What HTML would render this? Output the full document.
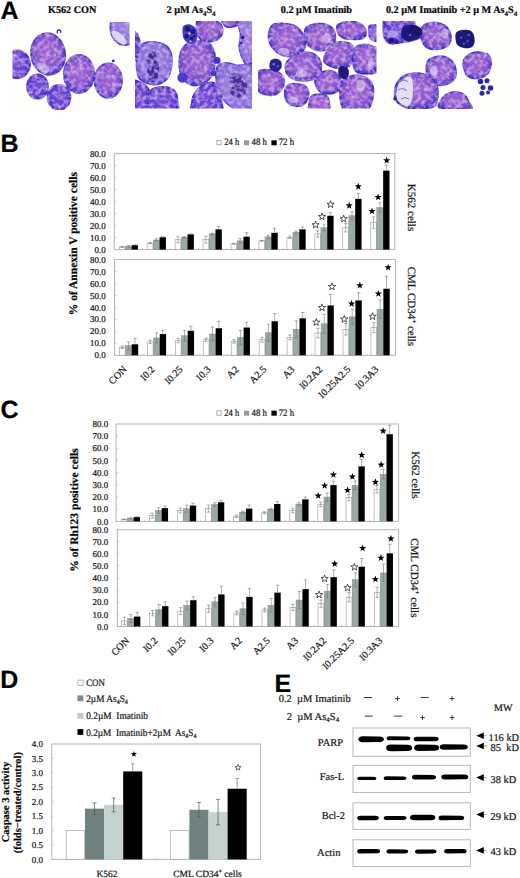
<!DOCTYPE html><html><head><meta charset="utf-8"><title>Figure</title><style>html,body{margin:0;padding:0;background:#fff;width:520px;height:878px;overflow:hidden}svg{display:block}text{stroke:#222;stroke-width:0.22px;text-rendering:geometricPrecision}</style></head><body>
<svg width="520" height="878" viewBox="0 0 520 878" font-family="'Liberation Serif', serif" fill="#111">
<rect width="520" height="878" fill="#fff"/>
<text x="0.5" y="18.7" font-family="'Liberation Sans', sans-serif" font-weight="bold" font-size="25" fill="#000">A</text>
<text x="0.6" y="151.5" font-family="'Liberation Sans', sans-serif" font-weight="bold" font-size="25" fill="#000">B</text>
<text x="0.4" y="418.3" font-family="'Liberation Sans', sans-serif" font-weight="bold" font-size="25" fill="#000">C</text>
<text x="0.2" y="688" font-family="'Liberation Sans', sans-serif" font-weight="bold" font-size="25" fill="#000">D</text>
<text x="274.6" y="691.6" font-family="'Liberation Sans', sans-serif" font-weight="bold" font-size="25" fill="#000">E</text>
<text x="48" y="13.2" font-size="10.2" font-weight="bold" fill="#000">K562 CON</text>
<text x="166.5" y="13.2" font-size="10.2" font-weight="bold" fill="#000">2 µM As<tspan font-size="7" dy="2.5">4</tspan><tspan dy="-2.5">S</tspan><tspan font-size="7" dy="2.5">4</tspan></text>
<text x="280.8" y="13.2" font-size="10.2" font-weight="bold" fill="#000">0.2 µM Imatinib</text>
<text x="385.9" y="13.2" font-size="10.2" font-weight="bold" fill="#000">0.2 µM Imatinib +2 µ M As<tspan font-size="7" dy="2.5">4</tspan><tspan dy="-2.5">S</tspan><tspan font-size="7" dy="2.5">4</tspan></text>
<defs>
<radialGradient id="gc" cx="50%" cy="45%" r="58%">
<stop offset="0" stop-color="#a068d4"/><stop offset="0.6" stop-color="#8a56ce"/><stop offset="0.86" stop-color="#5a40ca"/><stop offset="1" stop-color="#3026c0"/></radialGradient>
<radialGradient id="gb" cx="50%" cy="50%" r="58%">
<stop offset="0" stop-color="#7a50d8"/><stop offset="0.7" stop-color="#5a3cd4"/><stop offset="1" stop-color="#2c22c2"/></radialGradient>
<radialGradient id="gl" cx="50%" cy="45%" r="58%">
<stop offset="0" stop-color="#9c88e2"/><stop offset="0.75" stop-color="#8470dc"/><stop offset="1" stop-color="#4a3ace"/></radialGradient>
<filter id="tex" x="-5%" y="-5%" width="110%" height="110%">
<feTurbulence type="fractalNoise" baseFrequency="0.24" numOctaves="2" seed="7" result="n"/>
<feColorMatrix in="n" type="matrix" values="0 0 0 0 0.84  0 0 0 0 0.52  0 0 0 0 0.88  1.7 0 0 0 -0.72" result="pk"/>
<feGaussianBlur in="pk" stdDeviation="0.6" result="pkb"/>
<feComposite in="pkb" in2="SourceGraphic" operator="in" result="pk2"/>
<feMerge result="m"><feMergeNode in="SourceGraphic"/><feMergeNode in="pk2"/></feMerge>
<feGaussianBlur in="m" stdDeviation="0.4"/>
</filter>
<filter id="bl" x="-10%" y="-10%" width="120%" height="120%"><feGaussianBlur stdDeviation="0.5"/></filter>
<clipPath id="cp1"><rect x="12.5" y="22" width="117" height="88"/></clipPath>
<clipPath id="cp2"><rect x="135" y="21" width="117" height="87.6"/></clipPath>
<clipPath id="cp3"><rect x="258" y="21" width="118.5" height="87.5"/></clipPath>
<clipPath id="cp4"><rect x="382.5" y="21" width="132.5" height="88"/></clipPath>
</defs>
<g clip-path="url(#cp1)"><rect x="12.5" y="22" width="117" height="88" fill="#fefefb"/>
<g filter="url(#tex)"><ellipse cx="17" cy="64.3" rx="13.3" ry="14.3" fill="url(#gb)" stroke="#3024c4" stroke-width="1.2" stroke-opacity="0.85"/><ellipse cx="48.1" cy="54" rx="17.3" ry="21.2" fill="url(#gc)" transform="rotate(-8 48.1 54)" stroke="#3024c4" stroke-width="1.2" stroke-opacity="0.85"/><ellipse cx="37.5" cy="86.5" rx="10.8" ry="12.5" fill="url(#gb)" stroke="#3024c4" stroke-width="1.2" stroke-opacity="0.85"/><ellipse cx="59" cy="97.3" rx="11.8" ry="12.8" fill="url(#gb)" stroke="#3024c4" stroke-width="1.2" stroke-opacity="0.85"/><ellipse cx="79" cy="74" rx="15.5" ry="19.4" fill="url(#gc)" stroke="#3024c4" stroke-width="1.2" stroke-opacity="0.85"/><ellipse cx="108.3" cy="80.6" rx="14" ry="17.6" fill="url(#gc)" stroke="#3024c4" stroke-width="1.2" stroke-opacity="0.85"/><ellipse cx="125" cy="27" rx="15" ry="18.5" fill="url(#gl)" stroke="#3024c4" stroke-width="1.2" stroke-opacity="0.85"/></g>
<g filter="url(#bl)"><path d="M57.5 33.5 q-1 -3 1.5 -3.5 q2.5 0 1.5 3" stroke="#3a2cc6" stroke-width="1.3" fill="none"/><circle cx="113.30" cy="61.00" r="1.40" fill="#3a30a8"/><ellipse cx="43" cy="68" rx="7" ry="4" transform="rotate(30 43 68)" fill="#eee8f8" opacity="0.55"/><ellipse cx="119" cy="37.5" rx="9.5" ry="4" fill="#dcd6f4" transform="rotate(42 119 37.5)"/></g>
</g>
<g clip-path="url(#cp2)"><rect x="135" y="21" width="117" height="87.6" fill="#fefefb"/>
<g filter="url(#tex)"><path d="M132.8 32.7C133.8 28.8 137.5 33.7 138.6 36.2C139.8 38.7 140.0 44.0 139.8 47.7C139.6 51.3 138.6 56.2 137.5 58.1C136.3 60.0 133.6 63.5 132.8 59.2C132.1 55.0 131.9 36.5 132.8 32.7Z" fill="#4a3cd0" stroke="#3024c4" stroke-width="1.2" stroke-opacity="0.85"/><path d="M132.8 82.3C134.6 77.5 140.5 82.3 143.2 83.5C145.9 84.6 148.2 86.7 149.0 89.2C149.8 91.7 148.4 94.6 147.8 98.5C147.3 102.3 148.0 110.0 145.5 112.3C143.0 114.6 135.0 117.3 132.8 112.3C130.7 107.3 131.1 87.1 132.8 82.3Z" fill="url(#gb)" stroke="#3024c4" stroke-width="1.2" stroke-opacity="0.85"/><path d="M150.2 90.4C151.9 88.3 155.9 87.3 159.4 86.9C162.8 86.5 168.0 86.9 170.9 88.1C173.8 89.2 175.5 91.4 176.7 93.9C177.8 96.4 177.8 100.0 177.8 103.1C177.8 106.2 181.5 110.8 176.7 112.3C171.9 113.9 153.6 114.4 149.0 112.3C144.4 110.2 148.8 103.3 149.0 99.6C149.2 96.0 148.4 92.5 150.2 90.4Z" fill="url(#gb)" stroke="#3024c4" stroke-width="1.2" stroke-opacity="0.85"/><path d="M139.8 45.4C141.5 43.3 144.6 42.4 147.8 41.9C151.1 41.5 156.1 41.8 159.4 42.6C162.7 43.4 165.3 44.2 167.5 46.5C169.6 48.9 171.5 52.9 172.1 56.9C172.7 61.0 171.9 66.9 170.9 70.8C170.0 74.6 168.6 77.7 166.3 80.0C164.0 82.3 160.3 84.0 157.1 84.6C153.8 85.2 149.8 84.6 146.7 83.5C143.6 82.3 140.3 80.6 138.6 77.7C136.9 74.8 136.5 70.0 136.3 66.2C136.1 62.3 136.9 58.1 137.5 54.6C138.0 51.2 138.0 47.5 139.8 45.4Z" fill="url(#gl)" stroke="#3024c4" stroke-width="1.2" stroke-opacity="0.85"/><path d="M150.2 52.3C151.3 51.0 152.7 50.8 153.6 51.2C154.6 51.5 155.3 53.1 155.9 54.6C156.5 56.2 156.5 58.5 157.1 60.4C157.7 62.3 159.2 64.0 159.4 66.2C159.6 68.3 158.6 70.8 158.2 73.1C157.8 75.4 158.0 78.5 157.1 80.0C156.1 81.5 154.0 82.2 152.5 81.9C150.9 81.5 148.7 79.5 147.8 77.7C147.0 75.9 147.2 72.9 147.4 70.8C147.6 68.7 149.1 66.9 149.0 65.0C148.9 63.1 146.5 61.3 146.7 59.2C146.9 57.1 149.0 53.7 150.2 52.3Z" fill="#3e2aa4"/><path d="M197.5 18.8C199.6 16.3 206.3 18.1 210.2 18.8C214.0 19.6 218.4 21.3 220.5 23.5C222.7 25.6 223.0 29.0 222.9 31.5C222.7 34.0 221.5 36.7 219.4 38.5C217.3 40.2 213.0 41.5 210.2 41.9C207.3 42.3 204.2 42.1 202.1 40.8C200.0 39.4 198.2 37.5 197.5 33.8C196.7 30.2 195.4 21.3 197.5 18.8Z" fill="url(#gc)" stroke="#3024c4" stroke-width="1.2" stroke-opacity="0.85"/><path d="M221.7 18.8C223.4 17.5 234.2 17.7 236.7 18.8C239.2 20.0 238.4 24.4 236.7 25.8C235.0 27.1 228.8 28.1 226.3 26.9C223.8 25.8 220.0 20.2 221.7 18.8Z" fill="url(#gc)" stroke="#3024c4" stroke-width="1.2" stroke-opacity="0.85"/><path d="M181.3 50.0C183.0 46.7 186.1 43.5 189.4 41.9C192.7 40.4 197.5 40.4 200.9 40.8C204.4 41.2 207.9 42.3 210.2 44.2C212.5 46.2 214.0 48.7 214.8 52.3C215.5 56.0 215.2 62.3 214.8 66.2C214.4 70.0 214.0 72.7 212.5 75.4C210.9 78.1 208.4 80.6 205.5 82.3C202.7 84.0 198.4 85.8 195.2 85.8C191.9 85.8 188.4 84.4 185.9 82.3C183.4 80.2 181.3 76.5 180.2 73.1C179.0 69.6 178.8 65.4 179.0 61.5C179.2 57.7 179.6 53.3 181.3 50.0Z" fill="url(#gc)" stroke="#3024c4" stroke-width="1.2" stroke-opacity="0.85"/><path d="M237.9 18.8C240.5 16.3 253.2 11.3 256.3 18.8C259.4 26.3 257.9 56.2 256.3 63.8C254.8 71.5 249.4 65.8 247.1 65.0C244.8 64.2 243.8 62.1 242.5 59.2C241.1 56.3 239.4 51.9 239.0 47.7C238.6 43.5 240.4 38.7 240.2 33.8C240.0 29.0 235.2 21.3 237.9 18.8Z" fill="url(#gl)" stroke="#3024c4" stroke-width="1.2" stroke-opacity="0.85"/><path d="M217.1 66.2C218.8 63.3 222.9 62.9 226.3 62.7C229.8 62.5 234.0 64.8 237.9 65.0C241.7 65.2 246.3 63.7 249.4 63.8C252.5 64.0 255.2 58.1 256.3 66.2C257.5 74.2 259.4 104.8 256.3 112.3C253.2 119.8 242.9 112.7 237.9 111.2C232.9 109.6 229.4 106.0 226.3 103.1C223.2 100.2 221.1 97.7 219.4 93.9C217.7 90.0 216.3 84.6 215.9 80.0C215.5 75.4 215.4 69.0 217.1 66.2Z" fill="url(#gl)" stroke="#3024c4" stroke-width="1.2" stroke-opacity="0.85"/><path d="M232.1 74.2C233.6 73.2 237.0 73.0 239.0 73.5C241.0 74.1 243.0 75.9 244.3 77.7C245.7 79.5 246.8 82.1 247.1 84.6C247.4 87.1 246.9 90.6 245.9 92.7C245.0 94.8 243.0 96.4 241.3 97.3C239.6 98.2 237.3 98.6 235.5 98.0C233.8 97.4 232.0 95.7 230.9 93.9C229.9 92.0 229.3 89.2 229.1 86.9C228.9 84.6 229.3 82.1 229.8 80.0C230.3 77.9 230.5 75.3 232.1 74.2Z" fill="#4230a8"/><path d="M194.0 93.9C195.9 91.0 200.0 86.5 203.2 84.6C206.5 82.7 210.9 81.5 213.6 82.3C216.3 83.1 218.0 86.2 219.4 89.2C220.7 92.3 221.5 96.9 221.7 100.8C221.9 104.6 225.4 110.4 220.5 112.3C215.7 114.2 197.7 114.0 192.9 112.3C188.0 110.6 191.5 105.0 191.7 101.9C191.9 98.9 192.1 96.7 194.0 93.9Z" fill="url(#gb)" stroke="#3024c4" stroke-width="1.2" stroke-opacity="0.85"/></g>
<g filter="url(#bl)"><path d="M183.6 25.8C185.0 24.6 188.4 24.0 190.5 24.6C192.7 25.2 195.2 27.1 196.3 29.2C197.5 31.3 197.9 35.0 197.5 37.3C197.1 39.6 195.5 42.1 194.0 43.1C192.5 44.0 190.0 43.8 188.2 43.1C186.5 42.3 184.6 40.4 183.6 38.5C182.7 36.5 182.5 33.7 182.5 31.5C182.5 29.4 182.3 26.9 183.6 25.8Z" fill="#4a3cc4"/><circle cx="187.54" cy="28.77" r="3.00" fill="#1e1a80"/><circle cx="192.85" cy="31.54" r="2.54" fill="#1e1a80"/><circle cx="186.62" cy="36.16" r="2.31" fill="#1e1a80"/><circle cx="191.70" cy="38.92" r="2.08" fill="#1e1a80"/><circle cx="194.47" cy="36.16" r="1.38" fill="#1e1a80"/><circle cx="189.39" cy="33.39" r="1.20" fill="#c8c0f0"/><circle cx="190.54" cy="41.23" r="1.00" fill="#c8c0f0"/><circle cx="182.47" cy="77.70" r="5.08" fill="#4c3cd0"/><circle cx="217.08" cy="60.39" r="3.46" fill="#4434c8"/><circle cx="213.62" cy="73.54" r="2.77" fill="#4434c8"/><circle cx="242.47" cy="37.31" r="1.85" fill="#2a2298"/><circle cx="241.32" cy="43.08" r="1.38" fill="#2a2298"/></g>
</g>
<g clip-path="url(#cp3)"><rect x="258" y="21" width="118.5" height="87.5" fill="#fefefb"/>
<g filter="url(#tex)"><path d="M275.3 23.5C279.2 22.7 288.4 23.5 292.6 24.6C296.8 25.8 298.6 27.7 300.7 30.4C302.8 33.1 304.7 37.5 305.3 40.8C305.9 44.0 305.5 47.7 304.2 50.0C302.8 52.3 299.9 53.5 297.2 54.6C294.5 55.8 290.9 56.9 288.0 56.9C285.1 56.9 282.6 56.2 279.9 54.6C277.2 53.1 273.8 50.4 271.8 47.7C269.9 45.0 268.8 41.5 268.4 38.5C268.0 35.4 268.4 31.7 269.5 29.2C270.7 26.7 271.5 24.2 275.3 23.5Z" fill="url(#gc)" stroke="#3024c4" stroke-width="1.2" stroke-opacity="0.85"/><path d="M306.5 26.9C308.4 25.4 312.2 23.8 315.7 23.5C319.2 23.1 324.2 23.5 327.2 24.6C330.3 25.8 332.8 27.7 334.2 30.4C335.5 33.1 335.9 37.9 335.3 40.8C334.7 43.7 333.0 46.0 330.7 47.7C328.4 49.4 324.5 51.0 321.5 51.2C318.4 51.3 314.9 50.4 312.2 48.8C309.5 47.3 306.7 44.6 305.3 41.9C304.0 39.2 304.0 35.2 304.2 32.7C304.3 30.2 304.5 28.5 306.5 26.9Z" fill="url(#gc)" stroke="#3024c4" stroke-width="1.2" stroke-opacity="0.85"/><path d="M337.6 24.6C339.7 22.7 346.3 21.2 350.3 21.2C354.4 21.2 359.2 22.7 361.9 24.6C364.5 26.5 366.3 30.4 366.5 32.7C366.7 35.0 364.9 37.3 363.0 38.5C361.1 39.6 358.2 39.6 354.9 39.6C351.7 39.6 346.3 39.6 343.4 38.5C340.5 37.3 338.6 35.0 337.6 32.7C336.7 30.4 335.5 26.5 337.6 24.6Z" fill="url(#gc)" stroke="#3024c4" stroke-width="1.2" stroke-opacity="0.85"/><path d="M368.8 26.9C369.4 24.6 371.9 24.6 373.4 24.6C374.9 24.6 377.2 24.2 378.0 26.9C378.8 29.6 379.4 38.8 378.0 40.8C376.7 42.7 371.5 40.8 369.9 38.5C368.4 36.2 368.2 29.2 368.8 26.9Z" fill="url(#gc)" stroke="#3024c4" stroke-width="1.2" stroke-opacity="0.85"/><path d="M286.8 61.5C288.8 59.2 293.4 55.0 297.2 53.5C301.1 51.9 306.3 51.5 309.9 52.3C313.6 53.1 317.2 55.2 319.2 58.1C321.1 61.0 321.9 66.3 321.5 69.6C321.1 72.9 319.4 75.8 316.9 77.7C314.4 79.6 310.1 80.8 306.5 81.2C302.8 81.5 298.2 81.2 294.9 80.0C291.7 78.9 288.5 76.4 286.8 74.2C285.2 72.1 285.2 69.4 285.2 67.3C285.2 65.2 284.8 63.8 286.8 61.5Z" fill="url(#gc)" stroke="#3024c4" stroke-width="1.2" stroke-opacity="0.85"/><path d="M324.9 54.6C326.7 51.5 330.9 45.2 334.2 43.1C337.4 41.0 341.5 41.5 344.5 41.9C347.6 42.3 351.1 42.9 352.6 45.4C354.2 47.9 354.4 53.5 353.8 56.9C353.2 60.4 351.7 64.2 349.2 66.2C346.7 68.1 342.0 68.5 338.8 68.5C335.5 68.5 332.0 67.3 329.5 66.2C327.0 65.0 324.5 63.5 323.8 61.5C323.0 59.6 323.2 57.7 324.9 54.6Z" fill="url(#gc)" stroke="#3024c4" stroke-width="1.2" stroke-opacity="0.85"/><path d="M354.9 47.7C356.9 44.8 361.1 44.4 364.2 44.2C367.2 44.0 371.1 45.6 373.4 46.5C375.7 47.5 377.2 46.0 378.0 50.0C378.8 54.0 379.9 66.7 378.0 70.8C376.1 74.8 370.1 74.0 366.5 74.2C362.8 74.4 358.4 74.0 356.1 71.9C353.8 69.8 352.8 65.6 352.6 61.5C352.4 57.5 353.0 50.6 354.9 47.7Z" fill="url(#gc)" stroke="#3024c4" stroke-width="1.2" stroke-opacity="0.85"/><path d="M258.0 71.9C259.9 68.5 266.1 69.6 269.5 69.6C273.0 69.6 276.3 70.2 278.8 71.9C281.3 73.7 284.0 77.1 284.5 80.0C285.1 82.9 283.8 86.7 282.2 89.2C280.7 91.7 278.0 94.0 275.3 95.0C272.6 96.0 269.0 95.8 266.1 95.0C263.2 94.2 259.3 94.2 258.0 90.4C256.7 86.5 256.1 75.4 258.0 71.9Z" fill="url(#gc)" stroke="#3024c4" stroke-width="1.2" stroke-opacity="0.85"/><path d="M315.7 76.5C317.2 74.0 321.7 71.5 324.9 70.8C328.2 70.0 332.6 70.4 335.3 71.9C338.0 73.5 340.3 77.1 341.1 80.0C341.9 82.9 341.5 86.9 339.9 89.2C338.4 91.5 334.9 93.3 331.9 93.9C328.8 94.4 324.2 94.0 321.5 92.7C318.8 91.4 316.7 88.5 315.7 85.8C314.7 83.1 314.2 79.0 315.7 76.5Z" fill="url(#gc)" stroke="#3024c4" stroke-width="1.2" stroke-opacity="0.85"/><path d="M286.8 85.8C289.0 84.0 294.0 83.3 297.2 83.5C300.5 83.7 304.5 84.8 306.5 86.9C308.4 89.0 309.2 93.3 308.8 96.2C308.4 99.0 306.5 102.5 304.2 104.2C301.8 106.0 297.8 106.9 294.9 106.5C292.0 106.2 288.6 104.0 286.8 101.9C285.1 99.8 284.5 96.5 284.5 93.9C284.5 91.2 284.7 87.5 286.8 85.8Z" fill="url(#gc)" stroke="#3024c4" stroke-width="1.2" stroke-opacity="0.85"/><path d="M311.1 96.2C312.9 94.8 317.6 93.9 320.3 93.9C323.0 93.9 325.7 94.6 327.2 96.2C328.8 97.7 329.4 100.4 329.5 103.1C329.7 105.8 331.7 110.8 328.4 112.3C325.1 113.9 313.1 114.0 309.9 112.3C306.7 110.6 309.0 104.6 309.2 101.9C309.4 99.2 309.2 97.5 311.1 96.2Z" fill="url(#gc)" stroke="#3024c4" stroke-width="1.2" stroke-opacity="0.85"/><path d="M341.1 82.3C343.2 78.5 348.8 76.4 352.6 75.4C356.5 74.4 360.9 75.2 364.2 76.5C367.4 77.9 370.7 80.2 372.2 83.5C373.8 86.7 374.0 91.9 373.4 96.2C372.8 100.4 371.5 106.2 368.8 108.9C366.1 111.5 361.3 111.9 357.2 112.3C353.2 112.7 347.4 113.5 344.5 111.2C341.7 108.9 340.5 103.3 339.9 98.5C339.4 93.7 339.0 86.2 341.1 82.3Z" fill="url(#gc)" stroke="#3024c4" stroke-width="1.2" stroke-opacity="0.85"/></g>
<g filter="url(#bl)"><path d="M270.7 60.4C271.8 59.0 274.7 58.6 276.5 58.8C278.2 59.0 280.2 60.1 281.1 61.5C281.9 63.0 282.0 65.7 281.5 67.3C281.1 68.9 279.7 70.6 278.3 71.2C276.9 71.9 274.5 71.9 273.0 71.2C271.5 70.6 269.9 69.1 269.5 67.3C269.2 65.5 269.5 61.8 270.7 60.4Z" fill="#28228c"/><circle cx="273.69" cy="64.31" r="1.20" fill="#7a70d8"/><circle cx="277.85" cy="66.16" r="1.00" fill="#7a70d8"/><path d="M339.2 67.3C340.3 66.2 343.0 65.8 344.5 66.2C346.1 66.5 347.8 68.1 348.5 69.6C349.1 71.2 349.0 73.9 348.5 75.4C347.9 76.9 346.5 78.5 345.2 78.9C343.9 79.2 341.8 78.7 340.6 77.7C339.5 76.7 338.5 74.8 338.3 73.1C338.1 71.4 338.2 68.5 339.2 67.3Z" fill="#1c1a78"/><ellipse cx="283.4" cy="51.2" rx="6" ry="3.5" fill="#ece6f8" opacity="0.5"/><ellipse cx="301.8" cy="73.5" rx="6" ry="4" fill="#ece6f8" opacity="0.5"/><ellipse cx="360.7" cy="85.8" rx="4.5" ry="6" fill="#ece6f8" opacity="0.5"/><ellipse cx="292.6" cy="100" rx="5" ry="3.5" fill="#ece6f8" opacity="0.5"/><ellipse cx="327.2" cy="38.5" rx="4" ry="5" fill="#ece6f8" opacity="0.5"/><ellipse cx="371" cy="63.8" rx="3" ry="6" fill="#ece6f8" opacity="0.5"/></g>
</g>
<g clip-path="url(#cp4)"><rect x="382.5" y="21" width="132.5" height="88" fill="#fefefb"/>
<g filter="url(#tex)"><path d="M383.0 19.0C387.7 16.7 405.5 17.8 411.0 19.0C416.5 20.2 414.2 24.2 416.0 26.0C417.8 27.8 421.2 28.2 422.0 30.0C422.8 31.8 422.7 35.2 421.0 37.0C419.3 38.8 415.5 40.0 412.0 41.0C408.5 42.0 403.3 42.5 400.0 43.0C396.7 43.5 394.3 44.3 392.0 44.0C389.7 43.7 387.5 42.8 386.0 41.0C384.5 39.2 383.5 36.7 383.0 33.0C382.5 29.3 378.3 21.3 383.0 19.0Z" fill="url(#gb)" stroke="#3024c4" stroke-width="1.2" stroke-opacity="0.85"/><path d="M422.5 26.2C424.1 24.2 427.1 23.0 430.0 22.5C432.9 22.0 437.1 22.2 440.0 23.0C442.9 23.8 445.6 25.3 447.5 27.5C449.4 29.7 451.0 33.3 451.2 36.2C451.5 39.2 450.4 42.9 448.8 45.0C447.1 47.1 444.2 48.0 441.2 48.8C438.3 49.5 434.2 50.1 431.2 49.5C428.3 48.9 425.5 47.4 423.8 45.0C422.0 42.6 420.7 38.1 420.5 35.0C420.3 31.9 420.9 28.3 422.5 26.2Z" fill="url(#gc)" stroke="#3024c4" stroke-width="1.2" stroke-opacity="0.85"/><path d="M427.5 61.2C428.8 58.7 431.0 57.8 433.8 57.0C436.5 56.2 440.6 55.5 443.8 56.2C446.9 57.0 450.4 59.0 452.5 61.2C454.6 63.5 455.8 67.1 456.2 70.0C456.7 72.9 456.2 76.5 455.0 78.8C453.8 81.0 451.5 82.6 448.8 83.8C446.0 84.9 441.9 85.9 438.8 85.5C435.6 85.1 432.1 83.4 430.0 81.2C427.9 79.1 426.7 75.8 426.2 72.5C425.8 69.2 426.2 63.8 427.5 61.2Z" fill="url(#gc)" stroke="#3024c4" stroke-width="1.2" stroke-opacity="0.85"/><path d="M465.0 57.5C466.6 55.8 470.0 53.4 472.5 52.5C475.0 51.6 477.5 51.8 480.0 52.0C482.5 52.2 485.6 52.4 487.5 53.8C489.4 55.1 490.8 57.3 491.2 60.0C491.7 62.7 491.0 67.3 490.0 70.0C489.0 72.7 487.3 74.8 485.0 76.2C482.7 77.7 479.2 78.8 476.2 78.8C473.3 78.8 469.6 77.9 467.5 76.2C465.4 74.6 464.5 71.0 463.8 68.8C463.0 66.5 462.8 64.4 463.0 62.5C463.2 60.6 463.4 59.2 465.0 57.5Z" fill="url(#gc)" stroke="#3024c4" stroke-width="1.2" stroke-opacity="0.85"/><path d="M396.2 83.8C397.6 81.2 399.8 78.0 402.5 76.2C405.2 74.5 409.0 73.4 412.5 73.0C416.0 72.6 420.4 72.8 423.8 73.8C427.1 74.7 430.2 76.7 432.5 78.8C434.8 80.8 436.6 83.1 437.5 86.2C438.4 89.4 438.4 94.2 438.0 97.5C437.6 100.8 437.2 104.4 435.0 106.2C432.8 108.1 429.2 108.3 425.0 108.8C420.8 109.2 414.2 109.4 410.0 108.8C405.8 108.1 402.5 106.7 400.0 105.0C397.5 103.3 395.9 101.0 395.0 98.8C394.1 96.5 394.3 93.8 394.5 91.2C394.7 88.8 394.9 86.2 396.2 83.8Z" fill="url(#gc)" stroke="#3024c4" stroke-width="1.2" stroke-opacity="0.85"/><path d="M440.0 108.8C435.3 106.7 440.6 100.3 442.5 97.5C444.4 94.7 448.5 92.9 451.2 92.0C454.0 91.1 456.5 91.5 458.8 92.0C461.0 92.5 463.3 93.5 465.0 95.0C466.7 96.5 467.8 98.8 468.8 101.2C469.7 103.8 475.3 108.8 470.5 110.0C465.7 111.2 444.7 110.8 440.0 108.8Z" fill="url(#gc)" stroke="#3024c4" stroke-width="1.2" stroke-opacity="0.85"/></g>
<g filter="url(#bl)"><ellipse cx="393" cy="34" rx="5.5" ry="3.5" fill="#b8a8ea" opacity="0.8"/><path d="M403.0 27.0C404.5 25.1 407.7 24.7 410.0 24.5C412.3 24.3 415.0 25.1 417.0 26.0C419.0 26.9 421.3 28.3 422.0 30.0C422.7 31.7 422.3 34.3 421.0 36.0C419.7 37.7 416.5 39.2 414.0 40.0C411.5 40.8 408.2 41.7 406.0 41.0C403.8 40.3 401.5 38.3 401.0 36.0C400.5 33.7 401.5 28.9 403.0 27.0Z" fill="#1e1a80"/><circle cx="417.20" cy="31.00" r="4.20" fill="#14126a"/><circle cx="412.50" cy="28.50" r="3.60" fill="#16146e"/><circle cx="391.20" cy="40.50" r="2.80" fill="#1e1a80"/><circle cx="396.50" cy="41.50" r="2.20" fill="#241e88"/><circle cx="410.00" cy="35.00" r="1.00" fill="#7a70d8"/><path d="M456.2 32.5C457.4 31.0 460.2 30.3 462.5 30.0C464.8 29.7 468.1 29.7 470.0 30.5C471.9 31.3 473.0 33.0 473.8 35.0C474.5 37.0 474.9 40.4 474.5 42.5C474.1 44.6 473.0 46.6 471.2 47.5C469.5 48.4 466.0 48.4 463.8 48.0C461.5 47.6 458.9 46.5 457.5 45.0C456.1 43.5 455.7 40.8 455.5 38.8C455.3 36.7 455.1 34.0 456.2 32.5Z" fill="#1c1a78"/><circle cx="461.25" cy="37.50" r="1.10" fill="#6a62d0"/><circle cx="467.50" cy="41.25" r="1.10" fill="#6a62d0"/><circle cx="463.75" cy="43.75" r="1.10" fill="#6a62d0"/><circle cx="468.75" cy="35.00" r="1.10" fill="#6a62d0"/><circle cx="480.50" cy="81.50" r="2.75" fill="#2c28b0"/><circle cx="487.00" cy="80.75" r="2.50" fill="#2c28b0"/><circle cx="483.00" cy="87.50" r="2.50" fill="#2c28b0"/><circle cx="490.50" cy="88.00" r="2.75" fill="#2c28b0"/><circle cx="482.00" cy="93.25" r="2.50" fill="#2c28b0"/><circle cx="488.00" cy="92.50" r="2.00" fill="#2c28b0"/><path d="M398.0 85.5C399.2 82.4 401.7 80.2 403.8 78.8C405.8 77.3 409.0 75.9 410.5 77.0C412.0 78.1 412.8 81.8 413.0 85.5C413.2 89.2 412.8 96.0 412.0 99.5C411.2 103.0 409.8 105.5 408.0 106.2C406.2 107.0 403.2 105.2 401.2 103.8C399.3 102.3 397.0 100.5 396.5 97.5C396.0 94.5 396.8 88.6 398.0 85.5Z" fill="#e2def4"/><path d="M400 82 q4 -4 8 0 M398 90 q5 -3 9 1 M401 99 q4 -3 8 0" stroke="#5a50d0" stroke-width="0.8" fill="none"/><circle cx="395.00" cy="98.75" r="1.75" fill="#2a2494"/><ellipse cx="433.8" cy="71.2" rx="4" ry="5" fill="#ece6f8" opacity="0.5"/><ellipse cx="445.0" cy="33.8" rx="3.5" ry="5" fill="#ece6f8" opacity="0.5"/></g>
</g>
<rect x="216.9" y="140.4" width="4.2" height="4.4" fill="#fff" stroke="#9a9a9a" stroke-width="0.8"/>
<text x="224.3" y="145.4" font-size="9.8" textLength="15" lengthAdjust="spacingAndGlyphs">24 h</text>
<rect x="244.0" y="140.3" width="5.2" height="5" fill="#999"/>
<text x="251.5" y="145.4" font-size="9.8" textLength="15.5" lengthAdjust="spacingAndGlyphs">48 h</text>
<rect x="271.4" y="140.3" width="5.3" height="5" fill="#000"/>
<text x="278.7" y="145.4" font-size="9.8" textLength="15.5" lengthAdjust="spacingAndGlyphs">72 h</text>
<rect x="114.2" y="153.6" width="280.6" height="96.0" fill="#fff" stroke="#b4b4b4" stroke-width="1"/>
<line x1="114.2" y1="237.60" x2="116.2" y2="237.60" stroke="#bbb" stroke-width="0.7"/>
<line x1="114.2" y1="225.60" x2="116.2" y2="225.60" stroke="#bbb" stroke-width="0.7"/>
<line x1="114.2" y1="213.60" x2="116.2" y2="213.60" stroke="#bbb" stroke-width="0.7"/>
<line x1="114.2" y1="201.60" x2="116.2" y2="201.60" stroke="#bbb" stroke-width="0.7"/>
<line x1="114.2" y1="189.60" x2="116.2" y2="189.60" stroke="#bbb" stroke-width="0.7"/>
<line x1="114.2" y1="177.60" x2="116.2" y2="177.60" stroke="#bbb" stroke-width="0.7"/>
<line x1="114.2" y1="165.60" x2="116.2" y2="165.60" stroke="#bbb" stroke-width="0.7"/>
<line x1="142.26" y1="249.6" x2="142.26" y2="248.1" stroke="#bbb" stroke-width="0.7"/>
<line x1="170.32" y1="249.6" x2="170.32" y2="248.1" stroke="#bbb" stroke-width="0.7"/>
<line x1="198.38" y1="249.6" x2="198.38" y2="248.1" stroke="#bbb" stroke-width="0.7"/>
<line x1="226.44" y1="249.6" x2="226.44" y2="248.1" stroke="#bbb" stroke-width="0.7"/>
<line x1="254.50" y1="249.6" x2="254.50" y2="248.1" stroke="#bbb" stroke-width="0.7"/>
<line x1="282.56" y1="249.6" x2="282.56" y2="248.1" stroke="#bbb" stroke-width="0.7"/>
<line x1="310.62" y1="249.6" x2="310.62" y2="248.1" stroke="#bbb" stroke-width="0.7"/>
<line x1="338.68" y1="249.6" x2="338.68" y2="248.1" stroke="#bbb" stroke-width="0.7"/>
<line x1="366.74" y1="249.6" x2="366.74" y2="248.1" stroke="#bbb" stroke-width="0.7"/>
<rect x="119.20" y="246.96" width="5.75" height="2.64" fill="#fff" stroke="#999" stroke-width="0.6"/>
<path d="M122.08 246.60V247.32M120.38 246.60h3.4M120.38 247.32h3.4" stroke="#777" stroke-width="0.6" fill="none"/>
<rect x="125.25" y="246.48" width="6.35" height="3.12" fill="#98a9a6" stroke="#77807e" stroke-width="0.4"/>
<path d="M128.43 245.52V247.44M126.73 245.52h3.4M126.73 247.44h3.4" stroke="#777" stroke-width="0.6" fill="none"/>
<rect x="131.60" y="245.16" width="6.35" height="4.44" fill="#000"/>
<path d="M134.78 244.80V245.16M133.08 244.80h3.4" stroke="#777" stroke-width="0.6" fill="none"/>
<rect x="147.15" y="243.12" width="5.75" height="6.48" fill="#fff" stroke="#999" stroke-width="0.6"/>
<path d="M150.03 242.64V243.60M148.33 242.64h3.4M148.33 243.60h3.4" stroke="#777" stroke-width="0.6" fill="none"/>
<rect x="153.20" y="240.00" width="6.35" height="9.60" fill="#98a9a6" stroke="#77807e" stroke-width="0.4"/>
<path d="M156.38 238.80V241.20M154.68 238.80h3.4M154.68 241.20h3.4" stroke="#777" stroke-width="0.6" fill="none"/>
<rect x="159.55" y="237.24" width="6.35" height="12.36" fill="#000"/>
<path d="M162.72 236.76V237.24M161.03 236.76h3.4" stroke="#777" stroke-width="0.6" fill="none"/>
<rect x="175.10" y="239.76" width="5.75" height="9.84" fill="#fff" stroke="#999" stroke-width="0.6"/>
<path d="M177.98 236.76V242.76M176.28 236.76h3.4M176.28 242.76h3.4" stroke="#777" stroke-width="0.6" fill="none"/>
<rect x="181.15" y="237.24" width="6.35" height="12.36" fill="#98a9a6" stroke="#77807e" stroke-width="0.4"/>
<path d="M184.33 236.40V238.08M182.63 236.40h3.4M182.63 238.08h3.4" stroke="#777" stroke-width="0.6" fill="none"/>
<rect x="187.50" y="234.36" width="6.35" height="15.24" fill="#000"/>
<path d="M190.68 233.88V234.36M188.98 233.88h3.4" stroke="#777" stroke-width="0.6" fill="none"/>
<rect x="203.05" y="239.64" width="5.75" height="9.96" fill="#fff" stroke="#999" stroke-width="0.6"/>
<path d="M205.93 236.28V243.00M204.23 236.28h3.4M204.23 243.00h3.4" stroke="#777" stroke-width="0.6" fill="none"/>
<rect x="209.10" y="233.88" width="6.35" height="15.72" fill="#98a9a6" stroke="#77807e" stroke-width="0.4"/>
<path d="M212.28 233.16V234.60M210.58 233.16h3.4M210.58 234.60h3.4" stroke="#777" stroke-width="0.6" fill="none"/>
<rect x="215.45" y="229.32" width="6.35" height="20.28" fill="#000"/>
<path d="M218.62 226.56V229.32M216.93 226.56h3.4" stroke="#777" stroke-width="0.6" fill="none"/>
<rect x="231.00" y="243.84" width="5.75" height="5.76" fill="#fff" stroke="#999" stroke-width="0.6"/>
<path d="M233.88 243.36V244.32M232.18 243.36h3.4M232.18 244.32h3.4" stroke="#777" stroke-width="0.6" fill="none"/>
<rect x="237.05" y="240.84" width="6.35" height="8.76" fill="#98a9a6" stroke="#77807e" stroke-width="0.4"/>
<path d="M240.22 238.56V243.12M238.53 238.56h3.4M238.53 243.12h3.4" stroke="#777" stroke-width="0.6" fill="none"/>
<rect x="243.40" y="236.64" width="6.35" height="12.96" fill="#000"/>
<path d="M246.57 232.68V236.64M244.88 232.68h3.4" stroke="#777" stroke-width="0.6" fill="none"/>
<rect x="258.95" y="240.84" width="5.75" height="8.76" fill="#fff" stroke="#999" stroke-width="0.6"/>
<path d="M261.82 240.36V241.32M260.12 240.36h3.4M260.12 241.32h3.4" stroke="#777" stroke-width="0.6" fill="none"/>
<rect x="265.00" y="236.88" width="6.35" height="12.72" fill="#98a9a6" stroke="#77807e" stroke-width="0.4"/>
<path d="M268.18 235.08V238.68M266.48 235.08h3.4M266.48 238.68h3.4" stroke="#777" stroke-width="0.6" fill="none"/>
<rect x="271.35" y="232.80" width="6.35" height="16.80" fill="#000"/>
<path d="M274.52 228.24V232.80M272.82 228.24h3.4" stroke="#777" stroke-width="0.6" fill="none"/>
<rect x="286.90" y="237.36" width="5.75" height="12.24" fill="#fff" stroke="#999" stroke-width="0.6"/>
<path d="M289.78 236.16V238.56M288.08 236.16h3.4M288.08 238.56h3.4" stroke="#777" stroke-width="0.6" fill="none"/>
<rect x="292.95" y="232.32" width="6.35" height="17.28" fill="#98a9a6" stroke="#77807e" stroke-width="0.4"/>
<path d="M296.13 231.00V233.64M294.43 231.00h3.4M294.43 233.64h3.4" stroke="#777" stroke-width="0.6" fill="none"/>
<rect x="299.30" y="229.32" width="6.35" height="20.28" fill="#000"/>
<path d="M302.48 227.04V229.32M300.78 227.04h3.4" stroke="#777" stroke-width="0.6" fill="none"/>
<rect x="314.85" y="234.00" width="5.75" height="15.60" fill="#fff" stroke="#999" stroke-width="0.6"/>
<path d="M317.73 230.88V237.12M316.03 230.88h3.4M316.03 237.12h3.4" stroke="#777" stroke-width="0.6" fill="none"/>
<rect x="320.90" y="227.76" width="6.35" height="21.84" fill="#98a9a6" stroke="#77807e" stroke-width="0.4"/>
<path d="M324.08 224.76V230.76M322.38 224.76h3.4M322.38 230.76h3.4" stroke="#777" stroke-width="0.6" fill="none"/>
<rect x="327.25" y="215.76" width="6.35" height="33.84" fill="#000"/>
<path d="M330.43 212.64V215.76M328.73 212.64h3.4" stroke="#777" stroke-width="0.6" fill="none"/>
<rect x="342.80" y="227.76" width="5.75" height="21.84" fill="#fff" stroke="#999" stroke-width="0.6"/>
<path d="M345.68 223.56V231.96M343.98 223.56h3.4M343.98 231.96h3.4" stroke="#777" stroke-width="0.6" fill="none"/>
<rect x="348.85" y="215.76" width="6.35" height="33.84" fill="#98a9a6" stroke="#77807e" stroke-width="0.4"/>
<path d="M352.03 211.80V219.72M350.33 211.80h3.4M350.33 219.72h3.4" stroke="#777" stroke-width="0.6" fill="none"/>
<rect x="355.20" y="198.84" width="6.35" height="50.76" fill="#000"/>
<path d="M358.38 193.68V198.84M356.68 193.68h3.4" stroke="#777" stroke-width="0.6" fill="none"/>
<rect x="370.75" y="222.60" width="5.75" height="27.00" fill="#fff" stroke="#999" stroke-width="0.6"/>
<path d="M373.62 216.84V228.36M371.93 216.84h3.4M371.93 228.36h3.4" stroke="#777" stroke-width="0.6" fill="none"/>
<rect x="376.80" y="207.60" width="6.35" height="42.00" fill="#98a9a6" stroke="#77807e" stroke-width="0.4"/>
<path d="M379.98 202.80V212.40M378.28 202.80h3.4M378.28 212.40h3.4" stroke="#777" stroke-width="0.6" fill="none"/>
<rect x="383.15" y="170.64" width="6.35" height="78.96" fill="#000"/>
<path d="M386.32 165.12V170.64M384.62 165.12h3.4" stroke="#777" stroke-width="0.6" fill="none"/>
<polygon points="315.60,221.10 316.51,223.65 319.21,223.73 317.07,225.38 317.83,227.97 315.60,226.45 313.37,227.97 314.13,225.38 311.99,223.73 314.69,223.65" fill="#fff" stroke="#111" stroke-width="0.7" stroke-linejoin="miter"/>
<polygon points="322.00,212.90 322.91,215.45 325.61,215.53 323.47,217.18 324.23,219.77 322.00,218.25 319.77,219.77 320.53,217.18 318.39,215.53 321.09,215.45" fill="#fff" stroke="#111" stroke-width="0.7" stroke-linejoin="miter"/>
<polygon points="330.60,200.70 331.51,203.25 334.21,203.33 332.07,204.98 332.83,207.57 330.60,206.05 328.37,207.57 329.13,204.98 326.99,203.33 329.69,203.25" fill="#fff" stroke="#111" stroke-width="0.7" stroke-linejoin="miter"/>
<polygon points="343.70,215.10 344.61,217.65 347.31,217.73 345.17,219.38 345.93,221.97 343.70,220.45 341.47,221.97 342.23,219.38 340.09,217.73 342.79,217.65" fill="#fff" stroke="#111" stroke-width="0.7" stroke-linejoin="miter"/>
<polygon points="349.20,201.80 350.11,204.35 352.81,204.43 350.67,206.08 351.43,208.67 349.20,207.15 346.97,208.67 347.73,206.08 345.59,204.43 348.29,204.35" fill="#000"/>
<polygon points="358.30,182.80 359.21,185.35 361.91,185.43 359.77,187.08 360.53,189.67 358.30,188.15 356.07,189.67 356.83,187.08 354.69,185.43 357.39,185.35" fill="#000"/>
<polygon points="372.00,207.40 372.91,209.95 375.61,210.03 373.47,211.68 374.23,214.27 372.00,212.75 369.77,214.27 370.53,211.68 368.39,210.03 371.09,209.95" fill="#000"/>
<polygon points="378.10,193.40 379.01,195.95 381.71,196.03 379.57,197.68 380.33,200.27 378.10,198.75 375.87,200.27 376.63,197.68 374.49,196.03 377.19,195.95" fill="#000"/>
<polygon points="386.70,156.60 387.61,159.15 390.31,159.23 388.17,160.88 388.93,163.47 386.70,161.95 384.47,163.47 385.23,160.88 383.09,159.23 385.79,159.15" fill="#000"/>
<rect x="114.5" y="259.5" width="280.9" height="95.80000000000001" fill="#fff" stroke="#b4b4b4" stroke-width="1"/>
<line x1="114.5" y1="343.32" x2="116.5" y2="343.32" stroke="#bbb" stroke-width="0.7"/>
<line x1="114.5" y1="331.35" x2="116.5" y2="331.35" stroke="#bbb" stroke-width="0.7"/>
<line x1="114.5" y1="319.38" x2="116.5" y2="319.38" stroke="#bbb" stroke-width="0.7"/>
<line x1="114.5" y1="307.40" x2="116.5" y2="307.40" stroke="#bbb" stroke-width="0.7"/>
<line x1="114.5" y1="295.43" x2="116.5" y2="295.43" stroke="#bbb" stroke-width="0.7"/>
<line x1="114.5" y1="283.45" x2="116.5" y2="283.45" stroke="#bbb" stroke-width="0.7"/>
<line x1="114.5" y1="271.48" x2="116.5" y2="271.48" stroke="#bbb" stroke-width="0.7"/>
<line x1="142.59" y1="355.3" x2="142.59" y2="353.8" stroke="#bbb" stroke-width="0.7"/>
<line x1="170.68" y1="355.3" x2="170.68" y2="353.8" stroke="#bbb" stroke-width="0.7"/>
<line x1="198.77" y1="355.3" x2="198.77" y2="353.8" stroke="#bbb" stroke-width="0.7"/>
<line x1="226.86" y1="355.3" x2="226.86" y2="353.8" stroke="#bbb" stroke-width="0.7"/>
<line x1="254.95" y1="355.3" x2="254.95" y2="353.8" stroke="#bbb" stroke-width="0.7"/>
<line x1="283.04" y1="355.3" x2="283.04" y2="353.8" stroke="#bbb" stroke-width="0.7"/>
<line x1="311.13" y1="355.3" x2="311.13" y2="353.8" stroke="#bbb" stroke-width="0.7"/>
<line x1="339.22" y1="355.3" x2="339.22" y2="353.8" stroke="#bbb" stroke-width="0.7"/>
<line x1="367.31" y1="355.3" x2="367.31" y2="353.8" stroke="#bbb" stroke-width="0.7"/>
<rect x="119.40" y="347.28" width="5.75" height="8.02" fill="#fff" stroke="#999" stroke-width="0.6"/>
<path d="M122.27 346.08V348.47M120.57 346.08h3.4M120.57 348.47h3.4" stroke="#777" stroke-width="0.6" fill="none"/>
<rect x="125.45" y="345.60" width="6.35" height="9.70" fill="#98a9a6" stroke="#77807e" stroke-width="0.4"/>
<path d="M128.62 341.89V349.31M126.92 341.89h3.4M126.92 349.31h3.4" stroke="#777" stroke-width="0.6" fill="none"/>
<rect x="131.80" y="344.28" width="6.35" height="11.02" fill="#000"/>
<path d="M134.97 338.42V344.28M133.28 338.42h3.4" stroke="#777" stroke-width="0.6" fill="none"/>
<rect x="147.35" y="341.89" width="5.75" height="13.41" fill="#fff" stroke="#999" stroke-width="0.6"/>
<path d="M150.22 340.21V343.56M148.53 340.21h3.4M148.53 343.56h3.4" stroke="#777" stroke-width="0.6" fill="none"/>
<rect x="153.40" y="337.94" width="6.35" height="17.36" fill="#98a9a6" stroke="#77807e" stroke-width="0.4"/>
<path d="M156.57 332.91V342.97M154.88 332.91h3.4M154.88 342.97h3.4" stroke="#777" stroke-width="0.6" fill="none"/>
<rect x="159.75" y="334.10" width="6.35" height="21.20" fill="#000"/>
<path d="M162.92 330.39V334.10M161.22 330.39h3.4" stroke="#777" stroke-width="0.6" fill="none"/>
<rect x="175.30" y="340.57" width="5.75" height="14.73" fill="#fff" stroke="#999" stroke-width="0.6"/>
<path d="M178.18 338.42V342.73M176.48 338.42h3.4M176.48 342.73h3.4" stroke="#777" stroke-width="0.6" fill="none"/>
<rect x="181.35" y="335.78" width="6.35" height="19.52" fill="#98a9a6" stroke="#77807e" stroke-width="0.4"/>
<path d="M184.53 330.39V341.17M182.83 330.39h3.4M182.83 341.17h3.4" stroke="#777" stroke-width="0.6" fill="none"/>
<rect x="187.70" y="330.75" width="6.35" height="24.55" fill="#000"/>
<path d="M190.88 326.20V330.75M189.18 326.20h3.4" stroke="#777" stroke-width="0.6" fill="none"/>
<rect x="203.25" y="339.73" width="5.75" height="15.57" fill="#fff" stroke="#999" stroke-width="0.6"/>
<path d="M206.12 338.06V341.41M204.43 338.06h3.4M204.43 341.41h3.4" stroke="#777" stroke-width="0.6" fill="none"/>
<rect x="209.30" y="333.98" width="6.35" height="21.32" fill="#98a9a6" stroke="#77807e" stroke-width="0.4"/>
<path d="M212.47 327.04V340.93M210.78 327.04h3.4M210.78 340.93h3.4" stroke="#777" stroke-width="0.6" fill="none"/>
<rect x="215.65" y="328.24" width="6.35" height="27.06" fill="#000"/>
<path d="M218.82 321.29V328.24M217.12 321.29h3.4" stroke="#777" stroke-width="0.6" fill="none"/>
<rect x="231.20" y="341.41" width="5.75" height="13.89" fill="#fff" stroke="#999" stroke-width="0.6"/>
<path d="M234.07 339.61V343.21M232.38 339.61h3.4M232.38 343.21h3.4" stroke="#777" stroke-width="0.6" fill="none"/>
<rect x="237.25" y="337.46" width="6.35" height="17.84" fill="#98a9a6" stroke="#77807e" stroke-width="0.4"/>
<path d="M240.42 330.51V344.40M238.72 330.51h3.4M238.72 344.40h3.4" stroke="#777" stroke-width="0.6" fill="none"/>
<rect x="243.60" y="327.52" width="6.35" height="27.78" fill="#000"/>
<path d="M246.77 322.37V327.52M245.07 322.37h3.4" stroke="#777" stroke-width="0.6" fill="none"/>
<rect x="259.15" y="339.73" width="5.75" height="15.57" fill="#fff" stroke="#999" stroke-width="0.6"/>
<path d="M262.03 337.34V342.13M260.33 337.34h3.4M260.33 342.13h3.4" stroke="#777" stroke-width="0.6" fill="none"/>
<rect x="265.20" y="332.79" width="6.35" height="22.51" fill="#98a9a6" stroke="#77807e" stroke-width="0.4"/>
<path d="M268.38 324.28V341.29M266.68 324.28h3.4M266.68 341.29h3.4" stroke="#777" stroke-width="0.6" fill="none"/>
<rect x="271.55" y="321.29" width="6.35" height="34.01" fill="#000"/>
<path d="M274.73 313.63V321.29M273.03 313.63h3.4" stroke="#777" stroke-width="0.6" fill="none"/>
<rect x="287.10" y="337.46" width="5.75" height="17.84" fill="#fff" stroke="#999" stroke-width="0.6"/>
<path d="M289.97 335.06V339.85M288.27 335.06h3.4M288.27 339.85h3.4" stroke="#777" stroke-width="0.6" fill="none"/>
<rect x="293.15" y="329.31" width="6.35" height="25.99" fill="#98a9a6" stroke="#77807e" stroke-width="0.4"/>
<path d="M296.32 320.81V337.82M294.62 320.81h3.4M294.62 337.82h3.4" stroke="#777" stroke-width="0.6" fill="none"/>
<rect x="299.50" y="318.30" width="6.35" height="37.00" fill="#000"/>
<path d="M302.67 312.43V318.30M300.97 312.43h3.4" stroke="#777" stroke-width="0.6" fill="none"/>
<rect x="315.05" y="333.03" width="5.75" height="22.27" fill="#fff" stroke="#999" stroke-width="0.6"/>
<path d="M317.93 328.24V337.82M316.23 328.24h3.4M316.23 337.82h3.4" stroke="#777" stroke-width="0.6" fill="none"/>
<rect x="321.10" y="323.81" width="6.35" height="31.49" fill="#98a9a6" stroke="#77807e" stroke-width="0.4"/>
<path d="M324.28 314.35V333.27M322.58 314.35h3.4M322.58 333.27h3.4" stroke="#777" stroke-width="0.6" fill="none"/>
<rect x="327.45" y="305.48" width="6.35" height="49.82" fill="#000"/>
<path d="M330.62 294.47V305.48M328.93 294.47h3.4" stroke="#777" stroke-width="0.6" fill="none"/>
<rect x="343.00" y="329.31" width="5.75" height="25.99" fill="#fff" stroke="#999" stroke-width="0.6"/>
<path d="M345.88 323.57V335.06M344.18 323.57h3.4M344.18 335.06h3.4" stroke="#777" stroke-width="0.6" fill="none"/>
<rect x="349.05" y="316.86" width="6.35" height="38.44" fill="#98a9a6" stroke="#77807e" stroke-width="0.4"/>
<path d="M352.23 309.32V324.40M350.53 309.32h3.4M350.53 324.40h3.4" stroke="#777" stroke-width="0.6" fill="none"/>
<rect x="355.40" y="300.45" width="6.35" height="54.85" fill="#000"/>
<path d="M358.57 292.79V300.45M356.88 292.79h3.4" stroke="#777" stroke-width="0.6" fill="none"/>
<rect x="370.95" y="327.52" width="5.75" height="27.78" fill="#fff" stroke="#999" stroke-width="0.6"/>
<path d="M373.82 322.49V332.55M372.12 322.49h3.4M372.12 332.55h3.4" stroke="#777" stroke-width="0.6" fill="none"/>
<rect x="377.00" y="309.20" width="6.35" height="46.10" fill="#98a9a6" stroke="#77807e" stroke-width="0.4"/>
<path d="M380.18 299.98V318.42M378.48 299.98h3.4M378.48 318.42h3.4" stroke="#777" stroke-width="0.6" fill="none"/>
<rect x="383.35" y="288.72" width="6.35" height="66.58" fill="#000"/>
<path d="M386.52 276.26V288.72M384.82 276.26h3.4" stroke="#777" stroke-width="0.6" fill="none"/>
<polygon points="316.30,318.50 317.21,321.05 319.91,321.13 317.77,322.78 318.53,325.37 316.30,323.85 314.07,325.37 314.83,322.78 312.69,321.13 315.39,321.05" fill="#fff" stroke="#111" stroke-width="0.7" stroke-linejoin="miter"/>
<polygon points="322.00,303.90 322.91,306.45 325.61,306.53 323.47,308.18 324.23,310.77 322.00,309.25 319.77,310.77 320.53,308.18 318.39,306.53 321.09,306.45" fill="#fff" stroke="#111" stroke-width="0.7" stroke-linejoin="miter"/>
<polygon points="332.00,282.90 332.91,285.45 335.61,285.53 333.47,287.18 334.23,289.77 332.00,288.25 329.77,289.77 330.53,287.18 328.39,285.53 331.09,285.45" fill="#fff" stroke="#111" stroke-width="0.7" stroke-linejoin="miter"/>
<polygon points="344.30,315.40 345.21,317.95 347.91,318.03 345.77,319.68 346.53,322.27 344.30,320.75 342.07,322.27 342.83,319.68 340.69,318.03 343.39,317.95" fill="#fff" stroke="#111" stroke-width="0.7" stroke-linejoin="miter"/>
<polygon points="351.60,299.90 352.51,302.45 355.21,302.53 353.07,304.18 353.83,306.77 351.60,305.25 349.37,306.77 350.13,304.18 347.99,302.53 350.69,302.45" fill="#000"/>
<polygon points="359.80,281.60 360.71,284.15 363.41,284.23 361.27,285.88 362.03,288.47 359.80,286.95 357.57,288.47 358.33,285.88 356.19,284.23 358.89,284.15" fill="#000"/>
<polygon points="372.60,312.70 373.51,315.25 376.21,315.33 374.07,316.98 374.83,319.57 372.60,318.05 370.37,319.57 371.13,316.98 368.99,315.33 371.69,315.25" fill="#fff" stroke="#111" stroke-width="0.7" stroke-linejoin="miter"/>
<polygon points="378.40,289.90 379.31,292.45 382.01,292.53 379.87,294.18 380.63,296.77 378.40,295.25 376.17,296.77 376.93,294.18 374.79,292.53 377.49,292.45" fill="#000"/>
<polygon points="388.10,263.70 389.01,266.25 391.71,266.33 389.57,267.98 390.33,270.57 388.10,269.05 385.87,270.57 386.63,267.98 384.49,266.33 387.19,266.25" fill="#000"/>
<text x="105.8" y="252.70" font-size="9" text-anchor="end">0.0</text>
<text x="105.8" y="240.70" font-size="9" text-anchor="end">10.0</text>
<text x="105.8" y="228.70" font-size="9" text-anchor="end">20.0</text>
<text x="105.8" y="216.70" font-size="9" text-anchor="end">30.0</text>
<text x="105.8" y="204.70" font-size="9" text-anchor="end">40.0</text>
<text x="105.8" y="192.70" font-size="9" text-anchor="end">50.0</text>
<text x="105.8" y="180.70" font-size="9" text-anchor="end">60.0</text>
<text x="105.8" y="168.70" font-size="9" text-anchor="end">70.0</text>
<text x="105.8" y="156.70" font-size="9" text-anchor="end">80.0</text>
<text x="105.8" y="358.40" font-size="9" text-anchor="end">0.0</text>
<text x="105.8" y="346.43" font-size="9" text-anchor="end">10.0</text>
<text x="105.8" y="334.45" font-size="9" text-anchor="end">20.0</text>
<text x="105.8" y="322.48" font-size="9" text-anchor="end">30.0</text>
<text x="105.8" y="310.50" font-size="9" text-anchor="end">40.0</text>
<text x="105.8" y="298.53" font-size="9" text-anchor="end">50.0</text>
<text x="105.8" y="286.55" font-size="9" text-anchor="end">60.0</text>
<text x="105.8" y="274.58" font-size="9" text-anchor="end">70.0</text>
<text x="105.8" y="262.60" font-size="9" text-anchor="end">80.0</text>
<text x="127.40" y="370.00" font-size="10" text-anchor="end" transform="rotate(-45 127.40 370.00)">CON</text>
<text x="155.35" y="370.00" font-size="10" text-anchor="end" transform="rotate(-45 155.35 370.00)">I0.2</text>
<text x="183.30" y="370.00" font-size="10" text-anchor="end" transform="rotate(-45 183.30 370.00)">I0.25</text>
<text x="211.25" y="370.00" font-size="10" text-anchor="end" transform="rotate(-45 211.25 370.00)">I0.3</text>
<text x="239.20" y="370.00" font-size="10" text-anchor="end" transform="rotate(-45 239.20 370.00)">A2</text>
<text x="267.15" y="370.00" font-size="10" text-anchor="end" transform="rotate(-45 267.15 370.00)">A2.5</text>
<text x="295.10" y="370.00" font-size="10" text-anchor="end" transform="rotate(-45 295.10 370.00)">A3</text>
<text x="323.05" y="370.00" font-size="10" text-anchor="end" transform="rotate(-45 323.05 370.00)">I0.2A2</text>
<text x="351.00" y="370.00" font-size="10" text-anchor="end" transform="rotate(-45 351.00 370.00)">I0.25A2.5</text>
<text x="378.95" y="370.00" font-size="10" text-anchor="end" transform="rotate(-45 378.95 370.00)">I0.3A3</text>
<text transform="translate(77.3 243.65) rotate(-90)" font-size="11.5" font-weight="bold" text-anchor="middle" fill="#000">% of Annexin V positive cells</text>
<text transform="translate(408.3 207.5) rotate(90)" font-size="11" text-anchor="middle">K562 cells</text>
<text transform="translate(408.3 306.4) rotate(90)" font-size="11" text-anchor="middle">CML CD34<tspan font-size="7" dy="-4">+</tspan><tspan dy="4"> cells</tspan></text>
<rect x="216.9" y="410.8" width="4.2" height="4.4" fill="#fff" stroke="#9a9a9a" stroke-width="0.8"/>
<text x="224.3" y="415.8" font-size="9.8" textLength="15" lengthAdjust="spacingAndGlyphs">24 h</text>
<rect x="244.0" y="410.7" width="5.2" height="5" fill="#999"/>
<text x="251.5" y="415.8" font-size="9.8" textLength="15.5" lengthAdjust="spacingAndGlyphs">48 h</text>
<rect x="271.4" y="410.7" width="5.3" height="5" fill="#000"/>
<text x="278.7" y="415.8" font-size="9.8" textLength="15.5" lengthAdjust="spacingAndGlyphs">72 h</text>
<rect x="116.1" y="424.0" width="282.5" height="97.39999999999998" fill="#fff" stroke="#b4b4b4" stroke-width="1"/>
<line x1="116.1" y1="509.22" x2="118.1" y2="509.22" stroke="#bbb" stroke-width="0.7"/>
<line x1="116.1" y1="497.05" x2="118.1" y2="497.05" stroke="#bbb" stroke-width="0.7"/>
<line x1="116.1" y1="484.88" x2="118.1" y2="484.88" stroke="#bbb" stroke-width="0.7"/>
<line x1="116.1" y1="472.70" x2="118.1" y2="472.70" stroke="#bbb" stroke-width="0.7"/>
<line x1="116.1" y1="460.52" x2="118.1" y2="460.52" stroke="#bbb" stroke-width="0.7"/>
<line x1="116.1" y1="448.35" x2="118.1" y2="448.35" stroke="#bbb" stroke-width="0.7"/>
<line x1="116.1" y1="436.18" x2="118.1" y2="436.18" stroke="#bbb" stroke-width="0.7"/>
<line x1="144.35" y1="521.4" x2="144.35" y2="519.9" stroke="#bbb" stroke-width="0.7"/>
<line x1="172.60" y1="521.4" x2="172.60" y2="519.9" stroke="#bbb" stroke-width="0.7"/>
<line x1="200.85" y1="521.4" x2="200.85" y2="519.9" stroke="#bbb" stroke-width="0.7"/>
<line x1="229.10" y1="521.4" x2="229.10" y2="519.9" stroke="#bbb" stroke-width="0.7"/>
<line x1="257.35" y1="521.4" x2="257.35" y2="519.9" stroke="#bbb" stroke-width="0.7"/>
<line x1="285.60" y1="521.4" x2="285.60" y2="519.9" stroke="#bbb" stroke-width="0.7"/>
<line x1="313.85" y1="521.4" x2="313.85" y2="519.9" stroke="#bbb" stroke-width="0.7"/>
<line x1="342.10" y1="521.4" x2="342.10" y2="519.9" stroke="#bbb" stroke-width="0.7"/>
<line x1="370.35" y1="521.4" x2="370.35" y2="519.9" stroke="#bbb" stroke-width="0.7"/>
<rect x="121.20" y="519.45" width="5.75" height="1.95" fill="#fff" stroke="#999" stroke-width="0.6"/>
<path d="M124.08 519.09V519.82M122.38 519.09h3.4M122.38 519.82h3.4" stroke="#777" stroke-width="0.6" fill="none"/>
<rect x="127.25" y="518.23" width="6.35" height="3.17" fill="#98a9a6" stroke="#77807e" stroke-width="0.4"/>
<path d="M130.43 517.75V518.72M128.73 517.75h3.4M128.73 518.72h3.4" stroke="#777" stroke-width="0.6" fill="none"/>
<rect x="133.60" y="517.14" width="6.35" height="4.26" fill="#000"/>
<path d="M136.78 516.65V517.14M135.08 516.65h3.4" stroke="#777" stroke-width="0.6" fill="none"/>
<rect x="149.30" y="515.68" width="5.75" height="5.72" fill="#fff" stroke="#999" stroke-width="0.6"/>
<path d="M152.18 513.24V518.11M150.48 513.24h3.4M150.48 518.11h3.4" stroke="#777" stroke-width="0.6" fill="none"/>
<rect x="155.35" y="510.44" width="6.35" height="10.96" fill="#98a9a6" stroke="#77807e" stroke-width="0.4"/>
<path d="M158.53 507.89V513.00M156.83 507.89h3.4M156.83 513.00h3.4" stroke="#777" stroke-width="0.6" fill="none"/>
<rect x="161.70" y="508.13" width="6.35" height="13.27" fill="#000"/>
<path d="M164.88 506.18V508.13M163.18 506.18h3.4" stroke="#777" stroke-width="0.6" fill="none"/>
<rect x="177.40" y="510.44" width="5.75" height="10.96" fill="#fff" stroke="#999" stroke-width="0.6"/>
<path d="M180.28 508.01V512.88M178.58 508.01h3.4M178.58 512.88h3.4" stroke="#777" stroke-width="0.6" fill="none"/>
<rect x="183.45" y="508.74" width="6.35" height="12.66" fill="#98a9a6" stroke="#77807e" stroke-width="0.4"/>
<path d="M186.63 505.21V512.27M184.93 505.21h3.4M184.93 512.27h3.4" stroke="#777" stroke-width="0.6" fill="none"/>
<rect x="189.80" y="505.57" width="6.35" height="15.83" fill="#000"/>
<path d="M192.98 503.14V505.57M191.28 503.14h3.4" stroke="#777" stroke-width="0.6" fill="none"/>
<rect x="205.50" y="508.62" width="5.75" height="12.78" fill="#fff" stroke="#999" stroke-width="0.6"/>
<path d="M208.38 505.09V512.15M206.68 505.09h3.4M206.68 512.15h3.4" stroke="#777" stroke-width="0.6" fill="none"/>
<rect x="211.55" y="504.60" width="6.35" height="16.80" fill="#98a9a6" stroke="#77807e" stroke-width="0.4"/>
<path d="M214.73 502.77V506.42M213.03 502.77h3.4M213.03 506.42h3.4" stroke="#777" stroke-width="0.6" fill="none"/>
<rect x="217.90" y="502.29" width="6.35" height="19.11" fill="#000"/>
<path d="M221.08 500.46V502.29M219.38 500.46h3.4" stroke="#777" stroke-width="0.6" fill="none"/>
<rect x="233.60" y="516.29" width="5.75" height="5.11" fill="#fff" stroke="#999" stroke-width="0.6"/>
<path d="M236.48 514.95V517.63M234.78 514.95h3.4M234.78 517.63h3.4" stroke="#777" stroke-width="0.6" fill="none"/>
<rect x="239.65" y="512.03" width="6.35" height="9.37" fill="#98a9a6" stroke="#77807e" stroke-width="0.4"/>
<path d="M242.83 511.05V513.00M241.13 511.05h3.4M241.13 513.00h3.4" stroke="#777" stroke-width="0.6" fill="none"/>
<rect x="246.00" y="508.62" width="6.35" height="12.78" fill="#000"/>
<path d="M249.18 505.09V508.62M247.48 505.09h3.4" stroke="#777" stroke-width="0.6" fill="none"/>
<rect x="261.70" y="512.76" width="5.75" height="8.64" fill="#fff" stroke="#999" stroke-width="0.6"/>
<path d="M264.57 511.78V513.73M262.88 511.78h3.4M262.88 513.73h3.4" stroke="#777" stroke-width="0.6" fill="none"/>
<rect x="267.75" y="509.10" width="6.35" height="12.30" fill="#98a9a6" stroke="#77807e" stroke-width="0.4"/>
<path d="M270.93 508.13V510.08M269.23 508.13h3.4M269.23 510.08h3.4" stroke="#777" stroke-width="0.6" fill="none"/>
<rect x="274.10" y="503.99" width="6.35" height="17.41" fill="#000"/>
<path d="M277.27 501.68V503.99M275.57 501.68h3.4" stroke="#777" stroke-width="0.6" fill="none"/>
<rect x="289.80" y="510.44" width="5.75" height="10.96" fill="#fff" stroke="#999" stroke-width="0.6"/>
<path d="M292.68 508.13V512.76M290.98 508.13h3.4M290.98 512.76h3.4" stroke="#777" stroke-width="0.6" fill="none"/>
<rect x="295.85" y="503.99" width="6.35" height="17.41" fill="#98a9a6" stroke="#77807e" stroke-width="0.4"/>
<path d="M299.03 502.16V505.82M297.33 502.16h3.4M297.33 505.82h3.4" stroke="#777" stroke-width="0.6" fill="none"/>
<rect x="302.20" y="499.36" width="6.35" height="22.04" fill="#000"/>
<path d="M305.38 497.05V499.36M303.68 497.05h3.4" stroke="#777" stroke-width="0.6" fill="none"/>
<rect x="317.90" y="504.35" width="5.75" height="17.04" fill="#fff" stroke="#999" stroke-width="0.6"/>
<path d="M320.78 502.04V506.67M319.08 502.04h3.4M319.08 506.67h3.4" stroke="#777" stroke-width="0.6" fill="none"/>
<rect x="323.95" y="497.05" width="6.35" height="24.35" fill="#98a9a6" stroke="#77807e" stroke-width="0.4"/>
<path d="M327.13 493.03V501.07M325.43 493.03h3.4M325.43 501.07h3.4" stroke="#777" stroke-width="0.6" fill="none"/>
<rect x="330.30" y="485.12" width="6.35" height="36.28" fill="#000"/>
<path d="M333.48 481.10V485.12M331.78 481.10h3.4" stroke="#777" stroke-width="0.6" fill="none"/>
<rect x="346.00" y="497.54" width="5.75" height="23.86" fill="#fff" stroke="#999" stroke-width="0.6"/>
<path d="M348.88 494.49V500.58M347.18 494.49h3.4M347.18 500.58h3.4" stroke="#777" stroke-width="0.6" fill="none"/>
<rect x="352.05" y="485.24" width="6.35" height="36.16" fill="#98a9a6" stroke="#77807e" stroke-width="0.4"/>
<path d="M355.23 480.98V489.50M353.53 480.98h3.4M353.53 489.50h3.4" stroke="#777" stroke-width="0.6" fill="none"/>
<rect x="358.40" y="466.37" width="6.35" height="55.03" fill="#000"/>
<path d="M361.58 459.55V466.37M359.88 459.55h3.4" stroke="#777" stroke-width="0.6" fill="none"/>
<rect x="374.10" y="489.26" width="5.75" height="32.14" fill="#fff" stroke="#999" stroke-width="0.6"/>
<path d="M376.98 485.61V492.91M375.28 485.61h3.4M375.28 492.91h3.4" stroke="#777" stroke-width="0.6" fill="none"/>
<rect x="380.15" y="474.28" width="6.35" height="47.12" fill="#98a9a6" stroke="#77807e" stroke-width="0.4"/>
<path d="M383.33 469.53V479.03M381.63 469.53h3.4M381.63 479.03h3.4" stroke="#777" stroke-width="0.6" fill="none"/>
<rect x="386.50" y="434.23" width="6.35" height="87.17" fill="#000"/>
<path d="M389.68 425.58V434.23M387.98 425.58h3.4" stroke="#777" stroke-width="0.6" fill="none"/>
<polygon points="318.20,491.90 319.11,494.45 321.81,494.53 319.67,496.18 320.43,498.77 318.20,497.25 315.97,498.77 316.73,496.18 314.59,494.53 317.29,494.45" fill="#000"/>
<polygon points="324.60,482.00 325.51,484.55 328.21,484.63 326.07,486.28 326.83,488.87 324.60,487.35 322.37,488.87 323.13,486.28 320.99,484.63 323.69,484.55" fill="#000"/>
<polygon points="333.40,470.90 334.31,473.45 337.01,473.53 334.87,475.18 335.63,477.77 333.40,476.25 331.17,477.77 331.93,475.18 329.79,473.53 332.49,473.45" fill="#000"/>
<polygon points="347.50,486.40 348.41,488.95 351.11,489.03 348.97,490.68 349.73,493.27 347.50,491.75 345.27,493.27 346.03,490.68 343.89,489.03 346.59,488.95" fill="#000"/>
<polygon points="352.40,472.90 353.31,475.45 356.01,475.53 353.87,477.18 354.63,479.77 352.40,478.25 350.17,479.77 350.93,477.18 348.79,475.53 351.49,475.45" fill="#000"/>
<polygon points="361.70,451.30 362.61,453.85 365.31,453.93 363.17,455.58 363.93,458.17 361.70,456.65 359.47,458.17 360.23,455.58 358.09,453.93 360.79,453.85" fill="#000"/>
<polygon points="375.40,478.30 376.31,480.85 379.01,480.93 376.87,482.58 377.63,485.17 375.40,483.65 373.17,485.17 373.93,482.58 371.79,480.93 374.49,480.85" fill="#000"/>
<polygon points="381.20,461.00 382.11,463.55 384.81,463.63 382.67,465.28 383.43,467.87 381.20,466.35 378.97,467.87 379.73,465.28 377.59,463.63 380.29,463.55" fill="#000"/>
<polygon points="383.10,427.20 384.01,429.75 386.71,429.83 384.57,431.48 385.33,434.07 383.10,432.55 380.87,434.07 381.63,431.48 379.49,429.83 382.19,429.75" fill="#000"/>
<rect x="117.4" y="529.7" width="281.20000000000005" height="96.79999999999995" fill="#fff" stroke="#b4b4b4" stroke-width="1"/>
<line x1="117.4" y1="614.40" x2="119.4" y2="614.40" stroke="#bbb" stroke-width="0.7"/>
<line x1="117.4" y1="602.30" x2="119.4" y2="602.30" stroke="#bbb" stroke-width="0.7"/>
<line x1="117.4" y1="590.20" x2="119.4" y2="590.20" stroke="#bbb" stroke-width="0.7"/>
<line x1="117.4" y1="578.10" x2="119.4" y2="578.10" stroke="#bbb" stroke-width="0.7"/>
<line x1="117.4" y1="566.00" x2="119.4" y2="566.00" stroke="#bbb" stroke-width="0.7"/>
<line x1="117.4" y1="553.90" x2="119.4" y2="553.90" stroke="#bbb" stroke-width="0.7"/>
<line x1="117.4" y1="541.80" x2="119.4" y2="541.80" stroke="#bbb" stroke-width="0.7"/>
<line x1="145.52" y1="626.5" x2="145.52" y2="625.0" stroke="#bbb" stroke-width="0.7"/>
<line x1="173.64" y1="626.5" x2="173.64" y2="625.0" stroke="#bbb" stroke-width="0.7"/>
<line x1="201.76" y1="626.5" x2="201.76" y2="625.0" stroke="#bbb" stroke-width="0.7"/>
<line x1="229.88" y1="626.5" x2="229.88" y2="625.0" stroke="#bbb" stroke-width="0.7"/>
<line x1="258.00" y1="626.5" x2="258.00" y2="625.0" stroke="#bbb" stroke-width="0.7"/>
<line x1="286.12" y1="626.5" x2="286.12" y2="625.0" stroke="#bbb" stroke-width="0.7"/>
<line x1="314.24" y1="626.5" x2="314.24" y2="625.0" stroke="#bbb" stroke-width="0.7"/>
<line x1="342.36" y1="626.5" x2="342.36" y2="625.0" stroke="#bbb" stroke-width="0.7"/>
<line x1="370.48" y1="626.5" x2="370.48" y2="625.0" stroke="#bbb" stroke-width="0.7"/>
<rect x="121.60" y="620.93" width="5.75" height="5.57" fill="#fff" stroke="#999" stroke-width="0.6"/>
<path d="M124.47 617.30V624.56M122.77 617.30h3.4M122.77 624.56h3.4" stroke="#777" stroke-width="0.6" fill="none"/>
<rect x="127.65" y="618.39" width="6.35" height="8.11" fill="#98a9a6" stroke="#77807e" stroke-width="0.4"/>
<path d="M130.82 614.64V622.14M129.12 614.64h3.4M129.12 622.14h3.4" stroke="#777" stroke-width="0.6" fill="none"/>
<rect x="134.00" y="616.58" width="6.35" height="9.92" fill="#000"/>
<path d="M137.18 612.22V616.58M135.48 612.22h3.4" stroke="#777" stroke-width="0.6" fill="none"/>
<rect x="149.67" y="613.19" width="5.75" height="13.31" fill="#fff" stroke="#999" stroke-width="0.6"/>
<path d="M152.55 610.53V615.85M150.85 610.53h3.4M150.85 615.85h3.4" stroke="#777" stroke-width="0.6" fill="none"/>
<rect x="155.72" y="609.68" width="6.35" height="16.82" fill="#98a9a6" stroke="#77807e" stroke-width="0.4"/>
<path d="M158.90 604.48V614.88M157.20 604.48h3.4M157.20 614.88h3.4" stroke="#777" stroke-width="0.6" fill="none"/>
<rect x="162.07" y="606.17" width="6.35" height="20.33" fill="#000"/>
<path d="M165.25 601.82V606.17M163.55 601.82h3.4" stroke="#777" stroke-width="0.6" fill="none"/>
<rect x="177.74" y="611.13" width="5.75" height="15.37" fill="#fff" stroke="#999" stroke-width="0.6"/>
<path d="M180.62 607.62V614.64M178.92 607.62h3.4M178.92 614.64h3.4" stroke="#777" stroke-width="0.6" fill="none"/>
<rect x="183.79" y="605.45" width="6.35" height="21.05" fill="#98a9a6" stroke="#77807e" stroke-width="0.4"/>
<path d="M186.97 601.09V609.80M185.27 601.09h3.4M185.27 609.80h3.4" stroke="#777" stroke-width="0.6" fill="none"/>
<rect x="190.14" y="600.24" width="6.35" height="26.26" fill="#000"/>
<path d="M193.31 596.73V600.24M191.62 596.73h3.4" stroke="#777" stroke-width="0.6" fill="none"/>
<rect x="205.81" y="608.83" width="5.75" height="17.67" fill="#fff" stroke="#999" stroke-width="0.6"/>
<path d="M208.69 605.33V612.34M206.99 605.33h3.4M206.99 612.34h3.4" stroke="#777" stroke-width="0.6" fill="none"/>
<rect x="211.86" y="601.82" width="6.35" height="24.68" fill="#98a9a6" stroke="#77807e" stroke-width="0.4"/>
<path d="M215.03 597.70V605.93M213.34 597.70h3.4M213.34 605.93h3.4" stroke="#777" stroke-width="0.6" fill="none"/>
<rect x="218.21" y="594.44" width="6.35" height="32.06" fill="#000"/>
<path d="M221.38 586.09V594.44M219.69 586.09h3.4" stroke="#777" stroke-width="0.6" fill="none"/>
<rect x="233.88" y="612.95" width="5.75" height="13.55" fill="#fff" stroke="#999" stroke-width="0.6"/>
<path d="M236.75 611.13V614.76M235.06 611.13h3.4M235.06 614.76h3.4" stroke="#777" stroke-width="0.6" fill="none"/>
<rect x="239.93" y="608.83" width="6.35" height="17.67" fill="#98a9a6" stroke="#77807e" stroke-width="0.4"/>
<path d="M243.10 603.03V614.64M241.41 603.03h3.4M241.41 614.64h3.4" stroke="#777" stroke-width="0.6" fill="none"/>
<rect x="246.28" y="596.86" width="6.35" height="29.64" fill="#000"/>
<path d="M249.45 588.63V596.86M247.75 588.63h3.4" stroke="#777" stroke-width="0.6" fill="none"/>
<rect x="261.95" y="609.92" width="5.75" height="16.58" fill="#fff" stroke="#999" stroke-width="0.6"/>
<path d="M264.82 608.11V611.74M263.12 608.11h3.4M263.12 611.74h3.4" stroke="#777" stroke-width="0.6" fill="none"/>
<rect x="268.00" y="605.33" width="6.35" height="21.17" fill="#98a9a6" stroke="#77807e" stroke-width="0.4"/>
<path d="M271.18 598.43V612.22M269.48 598.43h3.4M269.48 612.22h3.4" stroke="#777" stroke-width="0.6" fill="none"/>
<rect x="274.35" y="592.62" width="6.35" height="33.88" fill="#000"/>
<path d="M277.52 585.24V592.62M275.82 585.24h3.4" stroke="#777" stroke-width="0.6" fill="none"/>
<rect x="290.02" y="607.62" width="5.75" height="18.88" fill="#fff" stroke="#999" stroke-width="0.6"/>
<path d="M292.90 604.60V610.65M291.20 604.60h3.4M291.20 610.65h3.4" stroke="#777" stroke-width="0.6" fill="none"/>
<rect x="296.07" y="600.00" width="6.35" height="26.50" fill="#98a9a6" stroke="#77807e" stroke-width="0.4"/>
<path d="M299.25 591.41V608.59M297.55 591.41h3.4M297.55 608.59h3.4" stroke="#777" stroke-width="0.6" fill="none"/>
<rect x="302.42" y="589.11" width="6.35" height="37.39" fill="#000"/>
<path d="M305.60 579.91V589.11M303.90 579.91h3.4" stroke="#777" stroke-width="0.6" fill="none"/>
<rect x="318.09" y="603.63" width="5.75" height="22.87" fill="#fff" stroke="#999" stroke-width="0.6"/>
<path d="M320.97 600.00V607.26M319.27 600.00h3.4M319.27 607.26h3.4" stroke="#777" stroke-width="0.6" fill="none"/>
<rect x="324.14" y="591.17" width="6.35" height="35.33" fill="#98a9a6" stroke="#77807e" stroke-width="0.4"/>
<path d="M327.32 584.39V597.94M325.62 584.39h3.4M325.62 597.94h3.4" stroke="#777" stroke-width="0.6" fill="none"/>
<rect x="330.49" y="577.13" width="6.35" height="49.37" fill="#000"/>
<path d="M333.67 569.87V577.13M331.97 569.87h3.4" stroke="#777" stroke-width="0.6" fill="none"/>
<rect x="346.16" y="597.22" width="5.75" height="29.28" fill="#fff" stroke="#999" stroke-width="0.6"/>
<path d="M349.04 592.62V601.82M347.34 592.62h3.4M347.34 601.82h3.4" stroke="#777" stroke-width="0.6" fill="none"/>
<rect x="352.21" y="579.79" width="6.35" height="46.71" fill="#98a9a6" stroke="#77807e" stroke-width="0.4"/>
<path d="M355.39 572.90V586.69M353.69 572.90h3.4M353.69 586.69h3.4" stroke="#777" stroke-width="0.6" fill="none"/>
<rect x="358.56" y="566.73" width="6.35" height="59.77" fill="#000"/>
<path d="M361.74 558.50V566.73M360.04 558.50h3.4" stroke="#777" stroke-width="0.6" fill="none"/>
<rect x="374.23" y="592.26" width="5.75" height="34.24" fill="#fff" stroke="#999" stroke-width="0.6"/>
<path d="M377.11 587.18V597.34M375.41 587.18h3.4M375.41 597.34h3.4" stroke="#777" stroke-width="0.6" fill="none"/>
<rect x="380.28" y="572.90" width="6.35" height="53.60" fill="#98a9a6" stroke="#77807e" stroke-width="0.4"/>
<path d="M383.46 564.31V581.49M381.76 564.31h3.4M381.76 581.49h3.4" stroke="#777" stroke-width="0.6" fill="none"/>
<rect x="386.63" y="553.30" width="6.35" height="73.20" fill="#000"/>
<path d="M389.81 544.22V553.30M388.11 544.22h3.4" stroke="#777" stroke-width="0.6" fill="none"/>
<polygon points="319.10,591.00 320.01,593.55 322.71,593.63 320.57,595.28 321.33,597.87 319.10,596.35 316.87,597.87 317.63,595.28 315.49,593.63 318.19,593.55" fill="#fff" stroke="#111" stroke-width="0.7" stroke-linejoin="miter"/>
<polygon points="324.60,574.90 325.51,577.45 328.21,577.53 326.07,579.18 326.83,581.77 324.60,580.25 322.37,581.77 323.13,579.18 320.99,577.53 323.69,577.45" fill="#fff" stroke="#111" stroke-width="0.7" stroke-linejoin="miter"/>
<polygon points="334.70,560.00 335.61,562.55 338.31,562.63 336.17,564.28 336.93,566.87 334.70,565.35 332.47,566.87 333.23,564.28 331.09,562.63 333.79,562.55" fill="#000"/>
<polygon points="347.50,584.10 348.41,586.65 351.11,586.73 348.97,588.38 349.73,590.97 347.50,589.45 345.27,590.97 346.03,588.38 343.89,586.73 346.59,586.65" fill="#fff" stroke="#111" stroke-width="0.7" stroke-linejoin="miter"/>
<polygon points="354.40,563.30 355.31,565.85 358.01,565.93 355.87,567.58 356.63,570.17 354.40,568.65 352.17,570.17 352.93,567.58 350.79,565.93 353.49,565.85" fill="#fff" stroke="#111" stroke-width="0.7" stroke-linejoin="miter"/>
<polygon points="362.60,544.40 363.51,546.95 366.21,547.03 364.07,548.68 364.83,551.27 362.60,549.75 360.37,551.27 361.13,548.68 358.99,547.03 361.69,546.95" fill="#000"/>
<polygon points="375.40,575.50 376.31,578.05 379.01,578.13 376.87,579.78 377.63,582.37 375.40,580.85 373.17,582.37 373.93,579.78 371.79,578.13 374.49,578.05" fill="#000"/>
<polygon points="380.90,554.10 381.81,556.65 384.51,556.73 382.37,558.38 383.13,560.97 380.90,559.45 378.67,560.97 379.43,558.38 377.29,556.73 379.99,556.65" fill="#000"/>
<polygon points="390.90,534.80 391.81,537.35 394.51,537.43 392.37,539.08 393.13,541.67 390.90,540.15 388.67,541.67 389.43,539.08 387.29,537.43 389.99,537.35" fill="#000"/>
<text x="108.2" y="524.50" font-size="9" text-anchor="end">0.0</text>
<text x="108.2" y="512.32" font-size="9" text-anchor="end">10.0</text>
<text x="108.2" y="500.15" font-size="9" text-anchor="end">20.0</text>
<text x="108.2" y="487.98" font-size="9" text-anchor="end">30.0</text>
<text x="108.2" y="475.80" font-size="9" text-anchor="end">40.0</text>
<text x="108.2" y="463.62" font-size="9" text-anchor="end">50.0</text>
<text x="108.2" y="451.45" font-size="9" text-anchor="end">60.0</text>
<text x="108.2" y="439.28" font-size="9" text-anchor="end">70.0</text>
<text x="108.2" y="427.10" font-size="9" text-anchor="end">80.0</text>
<text x="108.2" y="629.60" font-size="9" text-anchor="end">0.0</text>
<text x="108.2" y="617.50" font-size="9" text-anchor="end">10.0</text>
<text x="108.2" y="605.40" font-size="9" text-anchor="end">20.0</text>
<text x="108.2" y="593.30" font-size="9" text-anchor="end">30.0</text>
<text x="108.2" y="581.20" font-size="9" text-anchor="end">40.0</text>
<text x="108.2" y="569.10" font-size="9" text-anchor="end">50.0</text>
<text x="108.2" y="557.00" font-size="9" text-anchor="end">60.0</text>
<text x="108.2" y="544.90" font-size="9" text-anchor="end">70.0</text>
<text x="108.2" y="532.80" font-size="9" text-anchor="end">80.0</text>
<text x="130.10" y="641.30" font-size="10" text-anchor="end" transform="rotate(-45 130.10 641.30)">CON</text>
<text x="158.20" y="641.30" font-size="10" text-anchor="end" transform="rotate(-45 158.20 641.30)">I0.2</text>
<text x="186.30" y="641.30" font-size="10" text-anchor="end" transform="rotate(-45 186.30 641.30)">I0.25</text>
<text x="214.40" y="641.30" font-size="10" text-anchor="end" transform="rotate(-45 214.40 641.30)">I0.3</text>
<text x="242.50" y="641.30" font-size="10" text-anchor="end" transform="rotate(-45 242.50 641.30)">A2</text>
<text x="270.60" y="641.30" font-size="10" text-anchor="end" transform="rotate(-45 270.60 641.30)">A2.5</text>
<text x="298.70" y="641.30" font-size="10" text-anchor="end" transform="rotate(-45 298.70 641.30)">A3</text>
<text x="326.80" y="641.30" font-size="10" text-anchor="end" transform="rotate(-45 326.80 641.30)">I0.2A2</text>
<text x="354.90" y="641.30" font-size="10" text-anchor="end" transform="rotate(-45 354.90 641.30)">I0.25A2.5</text>
<text x="383.00" y="641.30" font-size="10" text-anchor="end" transform="rotate(-45 383.00 641.30)">I0.3A3</text>
<text transform="translate(78.4 510) rotate(-90)" font-size="11.5" font-weight="bold" text-anchor="middle" fill="#000">% of  Rh123 positive cells</text>
<text transform="translate(411.5 474.9) rotate(90)" font-size="11" text-anchor="middle">K562 cells</text>
<text transform="translate(410.5 577.8) rotate(90)" font-size="11" text-anchor="middle">CML CD34<tspan font-size="7" dy="-4">+</tspan><tspan dy="4"> cells</tspan></text>
<rect x="51.8" y="744.0" width="208.59999999999997" height="115.39999999999998" fill="#fff" stroke="#b4b4b4" stroke-width="1"/>
<line x1="51.8" y1="844.98" x2="53.8" y2="844.98" stroke="#bbb" stroke-width="0.7"/>
<line x1="51.8" y1="830.55" x2="53.8" y2="830.55" stroke="#bbb" stroke-width="0.7"/>
<line x1="51.8" y1="816.12" x2="53.8" y2="816.12" stroke="#bbb" stroke-width="0.7"/>
<line x1="51.8" y1="801.70" x2="53.8" y2="801.70" stroke="#bbb" stroke-width="0.7"/>
<line x1="51.8" y1="787.27" x2="53.8" y2="787.27" stroke="#bbb" stroke-width="0.7"/>
<line x1="51.8" y1="772.85" x2="53.8" y2="772.85" stroke="#bbb" stroke-width="0.7"/>
<line x1="51.8" y1="758.42" x2="53.8" y2="758.42" stroke="#bbb" stroke-width="0.7"/>
<line x1="156.2" y1="859.4" x2="156.2" y2="857.9" stroke="#bbb" stroke-width="0.7"/>
<text x="43" y="862.50" font-size="9" text-anchor="end">0.0</text>
<text x="43" y="848.08" font-size="9" text-anchor="end">0.5</text>
<text x="43" y="833.65" font-size="9" text-anchor="end">1.0</text>
<text x="43" y="819.23" font-size="9" text-anchor="end">1.5</text>
<text x="43" y="804.80" font-size="9" text-anchor="end">2.0</text>
<text x="43" y="790.38" font-size="9" text-anchor="end">2.5</text>
<text x="43" y="775.95" font-size="9" text-anchor="end">3.0</text>
<text x="43" y="761.52" font-size="9" text-anchor="end">3.5</text>
<text x="43" y="747.10" font-size="9" text-anchor="end">4.0</text>
<rect x="66.20" y="830.55" width="18.50" height="28.85" fill="#fff" stroke="#999" stroke-width="0.6"/>
<rect x="85.00" y="808.62" width="19.10" height="50.78" fill="#708280"/>
<path d="M94.55 802.85V814.39M92.55 802.85h4M92.55 814.39h4" stroke="#555" stroke-width="0.7" fill="none"/>
<rect x="104.10" y="804.87" width="19.10" height="54.53" fill="#c4d2d0"/>
<path d="M113.65 797.95V811.80M111.65 797.95h4M111.65 811.80h4" stroke="#555" stroke-width="0.7" fill="none"/>
<rect x="123.20" y="771.41" width="19.10" height="87.99" fill="#000"/>
<path d="M132.75 763.91V771.41M130.75 763.91h4" stroke="#777" stroke-width="0.7" fill="none"/>
<rect x="170.60" y="830.55" width="18.50" height="28.85" fill="#fff" stroke="#999" stroke-width="0.6"/>
<rect x="189.40" y="809.78" width="19.10" height="49.62" fill="#708280"/>
<path d="M198.95 802.57V816.99M196.95 802.57h4M196.95 816.99h4" stroke="#555" stroke-width="0.7" fill="none"/>
<rect x="208.50" y="812.09" width="19.10" height="47.31" fill="#c4d2d0"/>
<path d="M218.05 799.39V824.78M216.05 799.39h4M216.05 824.78h4" stroke="#555" stroke-width="0.7" fill="none"/>
<rect x="227.60" y="788.72" width="19.10" height="70.68" fill="#000"/>
<path d="M237.15 778.62V788.72M235.15 778.62h4" stroke="#777" stroke-width="0.7" fill="none"/>
<polygon points="133.90,750.90 134.66,753.05 136.94,753.11 135.14,754.50 135.78,756.69 133.90,755.40 132.02,756.69 132.66,754.50 130.86,753.11 133.14,753.05" fill="#000"/>
<polygon points="238.00,764.40 238.76,766.55 241.04,766.61 239.24,768.00 239.88,770.19 238.00,768.90 236.12,770.19 236.76,768.00 234.96,766.61 237.24,766.55" fill="#fff" stroke="#111" stroke-width="0.6"/>
<text x="107" y="876.5" font-size="9.5" text-anchor="middle">K562</text>
<text x="207.5" y="876.5" font-size="9.5" text-anchor="middle">CML CD34<tspan font-size="6" dy="-3.5">+</tspan><tspan dy="3.5"> cells</tspan></text>
<text transform="translate(9.2 802) rotate(-90)" font-size="10.5" font-weight="bold" text-anchor="middle" fill="#000">Caspase 3 activity</text>
<text transform="translate(20.9 802.7) rotate(-90)" font-size="10.5" font-weight="bold" text-anchor="middle" fill="#000">(folds−treated/control)</text>
<rect x="77.9" y="680.10" width="5.2" height="5.2" fill="#fff" stroke="#999" stroke-width="0.7"/>
<text x="86.2" y="686.20" font-size="10" textLength="18.8" lengthAdjust="spacingAndGlyphs" xml:space="preserve">CON</text>
<rect x="77.5" y="695.40" width="5.8" height="5.8" fill="#808a88"/>
<text x="86.2" y="701.80" font-size="10" textLength="41.7" lengthAdjust="spacingAndGlyphs" xml:space="preserve">2µM As<tspan font-size="6.5" dy="2.2">4</tspan><tspan dy="-2.2">S</tspan><tspan font-size="6.5" dy="2.2">4</tspan></text>
<rect x="77.5" y="712.90" width="5.8" height="5.8" fill="#c4c8c8"/>
<text x="86.2" y="719.30" font-size="10" textLength="61.8" lengthAdjust="spacingAndGlyphs" xml:space="preserve">0.2µM  Imatinib</text>
<rect x="77.5" y="729.10" width="5.8" height="5.8" fill="#000"/>
<text x="86.2" y="735.50" font-size="10" textLength="110.3" lengthAdjust="spacingAndGlyphs" xml:space="preserve">0.2µM  Imatinib+2µM  As<tspan font-size="6.5" dy="2.2">4</tspan><tspan dy="-2.2">S</tspan><tspan font-size="6.5" dy="2.2">4</tspan></text>
<text x="278.7" y="702.3" font-size="10.5" xml:space="preserve">0.2  µM Imatinib</text>
<text x="286.7" y="719.7" font-size="10.5" xml:space="preserve">2  µM As<tspan font-size="7" dy="2.5">4</tspan><tspan dy="-2.5">S</tspan><tspan font-size="7" dy="2.5">4</tspan></text>
<line x1="363.9" y1="697.5" x2="371.9" y2="697.5" stroke="#222" stroke-width="0.9"/>
<path d="M395.2 698.6h4.6M397.5 696.3v4.6" stroke="#222" stroke-width="0.9"/>
<line x1="420.6" y1="697.5" x2="428.6" y2="697.5" stroke="#222" stroke-width="0.9"/>
<path d="M449.7 698.6h4.6M452.0 696.3v4.6" stroke="#222" stroke-width="0.9"/>
<line x1="364.7" y1="716.1" x2="372.7" y2="716.1" stroke="#222" stroke-width="0.9"/>
<line x1="394.3" y1="716.1" x2="402.3" y2="716.1" stroke="#222" stroke-width="0.9"/>
<path d="M420.2 717.6h4.6M422.5 715.3v4.6" stroke="#222" stroke-width="0.9"/>
<path d="M449.8 717.6h4.6M452.1 715.3v4.6" stroke="#222" stroke-width="0.9"/>
<text x="494" y="711.4" font-size="10">MW</text>
<rect x="353" y="728.0" width="117.3" height="28.2" fill="#fff" stroke="#b0b0b0" stroke-width="0.9"/>
<rect x="353" y="765.3" width="117.3" height="27.1" fill="#fff" stroke="#b0b0b0" stroke-width="0.9"/>
<rect x="353" y="802.8" width="117.3" height="26.6" fill="#fff" stroke="#b0b0b0" stroke-width="0.9"/>
<rect x="353" y="839.8" width="117.3" height="26.7" fill="#fff" stroke="#b0b0b0" stroke-width="0.9"/>
<text x="343.1" y="746.3" font-size="10.5" text-anchor="end">PARP</text>
<text x="344.2" y="780.3" font-size="10.5" text-anchor="end">Fas-L</text>
<text x="345" y="819.2" font-size="10.5" text-anchor="end">Bcl-2</text>
<text x="340.4" y="856.3" font-size="10.5" text-anchor="end">Actin</text>
<path d="M358.5 739.2 Q358.5 736.2 363.0 736.2 L379.3 736.4 Q383.8 736.5 383.8 739.2 Q383.8 741.9 379.3 742.1 L363.0 742.2 Q358.5 742.2 358.5 739.2Z" fill="#000" fill-opacity="1.0"/>
<path d="M386.7 738.3 Q386.7 736.3 389.7 736.3 L407.4 736.4 Q410.4 736.5 410.4 738.3 Q410.4 740.1 407.4 740.2 L389.7 740.3 Q386.7 740.3 386.7 738.3Z" fill="#000" fill-opacity="1.0"/>
<path d="M413.6 739.0 Q413.6 736.7 417.1 736.7 L435.2 736.8 Q438.6 736.9 438.6 739.0 Q438.6 741.1 435.2 741.2 L417.1 741.3 Q413.6 741.3 413.6 739.0Z" fill="#000" fill-opacity="1.0"/>
<path d="M386.2 747.9 Q386.2 744.6 391.1 744.6 L407.2 744.8 Q412.1 744.9 412.1 747.9 Q412.1 750.9 407.2 751.0 L391.1 751.2 Q386.2 751.2 386.2 747.9Z" fill="#000" fill-opacity="1.0"/>
<path d="M414.2 747.7 Q414.2 744.5 419.0 744.5 L434.4 744.7 Q439.2 744.8 439.2 747.7 Q439.2 750.6 434.4 750.7 L419.0 750.9 Q414.2 750.9 414.2 747.7Z" fill="#000" fill-opacity="1.0"/>
<path d="M439.8 747.0 Q439.8 744.3 443.9 744.3 L463.8 744.4 Q467.8 744.6 467.8 747.0 Q467.8 749.4 463.8 749.6 L443.9 749.7 Q439.8 749.7 439.8 747.0Z" fill="#000" fill-opacity="1.0"/>
<path d="M357.2 778.4 Q357.2 776.7 359.8 776.7 L373.8 776.8 Q376.4 776.9 376.4 778.4 Q376.4 779.9 373.8 780.0 L359.8 780.1 Q357.2 780.1 357.2 778.4Z" fill="#000" fill-opacity="1.0"/>
<path d="M383.7 778.2 Q383.7 776.3 386.6 776.3 L403.6 776.4 Q406.5 776.5 406.5 778.2 Q406.5 779.9 403.6 780.0 L386.6 780.1 Q383.7 780.1 383.7 778.2Z" fill="#000" fill-opacity="1.0"/>
<path d="M412.0 777.2 Q412.0 774.8 415.6 774.8 L432.4 774.9 Q436.0 775.0 436.0 777.2 Q436.0 779.4 432.4 779.5 L415.6 779.6 Q412.0 779.6 412.0 777.2Z" fill="#000" fill-opacity="1.0"/>
<path d="M441.3 776.9 Q441.3 774.4 445.1 774.4 L464.6 774.5 Q468.3 774.6 468.3 776.9 Q468.3 779.1 464.6 779.3 L445.1 779.4 Q441.3 779.4 441.3 776.9Z" fill="#000" fill-opacity="1.0"/>
<path d="M357.2 818.0 Q357.2 815.7 360.6 815.7 L375.4 815.8 Q378.8 815.9 378.8 818.0 Q378.8 820.1 375.4 820.2 L360.6 820.3 Q357.2 820.3 357.2 818.0Z" fill="#000" fill-opacity="1.0"/>
<path d="M383.7 818.0 Q383.7 816.0 386.7 816.0 L403.5 816.1 Q406.5 816.2 406.5 818.0 Q406.5 819.8 403.5 819.9 L386.7 820.0 Q383.7 820.0 383.7 818.0Z" fill="#000" fill-opacity="1.0"/>
<path d="M410.0 817.5 Q410.0 814.7 414.2 814.7 L431.1 814.8 Q435.3 815.0 435.3 817.5 Q435.3 820.0 431.1 820.2 L414.2 820.3 Q410.0 820.3 410.0 817.5Z" fill="#000" fill-opacity="1.0"/>
<path d="M438.5 817.9 Q438.5 815.5 442.0 815.5 L460.7 815.7 Q464.2 815.8 464.2 817.9 Q464.2 820.0 460.7 820.1 L442.0 820.2 Q438.5 820.2 438.5 817.9Z" fill="#000" fill-opacity="1.0"/>
<path d="M357.2 851.2 Q357.2 849.0 360.6 849.0 L376.6 849.1 Q380.0 849.2 380.0 851.2 Q380.0 853.2 376.6 853.3 L360.6 853.5 Q357.2 853.5 357.2 851.2Z" fill="#000" fill-opacity="1.0"/>
<path d="M386.5 851.4 Q386.5 849.2 389.7 849.2 L405.0 849.4 Q408.2 849.5 408.2 851.4 Q408.2 853.3 405.0 853.4 L389.7 853.5 Q386.5 853.5 386.5 851.4Z" fill="#000" fill-opacity="1.0"/>
<path d="M415.0 851.6 Q415.0 849.5 418.2 849.5 L433.3 849.6 Q436.5 849.7 436.5 851.6 Q436.5 853.5 433.3 853.6 L418.2 853.8 Q415.0 853.8 415.0 851.6Z" fill="#000" fill-opacity="1.0"/>
<path d="M444.2 851.2 Q444.2 849.0 447.5 849.0 L463.3 849.1 Q466.6 849.2 466.6 851.2 Q466.6 853.2 463.3 853.3 L447.5 853.4 Q444.2 853.4 444.2 851.2Z" fill="#000" fill-opacity="1.0"/>
<path d="M476.2 735.8 L483.8 732.5 L483.8 739.0999999999999 Z" fill="#000"/>
<line x1="483.3" y1="735.8" x2="486.5" y2="735.8" stroke="#555" stroke-width="0.6"/>
<text x="488.6" y="740.7" font-size="10.4" xml:space="preserve">116 kD</text>
<path d="M476.2 746.0 L483.8 742.7 L483.8 749.3 Z" fill="#000"/>
<line x1="483.3" y1="746.0" x2="486.5" y2="746.0" stroke="#555" stroke-width="0.6"/>
<text x="490.6" y="750.9" font-size="10.4" xml:space="preserve">85  kD</text>
<path d="M476.2 777.6 L483.8 774.3000000000001 L483.8 780.9 Z" fill="#000"/>
<line x1="483.3" y1="777.6" x2="486.5" y2="777.6" stroke="#555" stroke-width="0.6"/>
<text x="490.6" y="782.5" font-size="10.4" xml:space="preserve">38 kD</text>
<path d="M476.2 814.6 L483.8 811.3000000000001 L483.8 817.9 Z" fill="#000"/>
<line x1="483.3" y1="814.6" x2="486.5" y2="814.6" stroke="#555" stroke-width="0.6"/>
<text x="490.6" y="819.5" font-size="10.4" xml:space="preserve">29 kD</text>
<path d="M476.2 850.4 L483.8 847.1 L483.8 853.6999999999999 Z" fill="#000"/>
<line x1="483.3" y1="850.4" x2="486.5" y2="850.4" stroke="#555" stroke-width="0.6"/>
<text x="490.6" y="855.3" font-size="10.4" xml:space="preserve">43 kD</text>
</svg></body></html>
